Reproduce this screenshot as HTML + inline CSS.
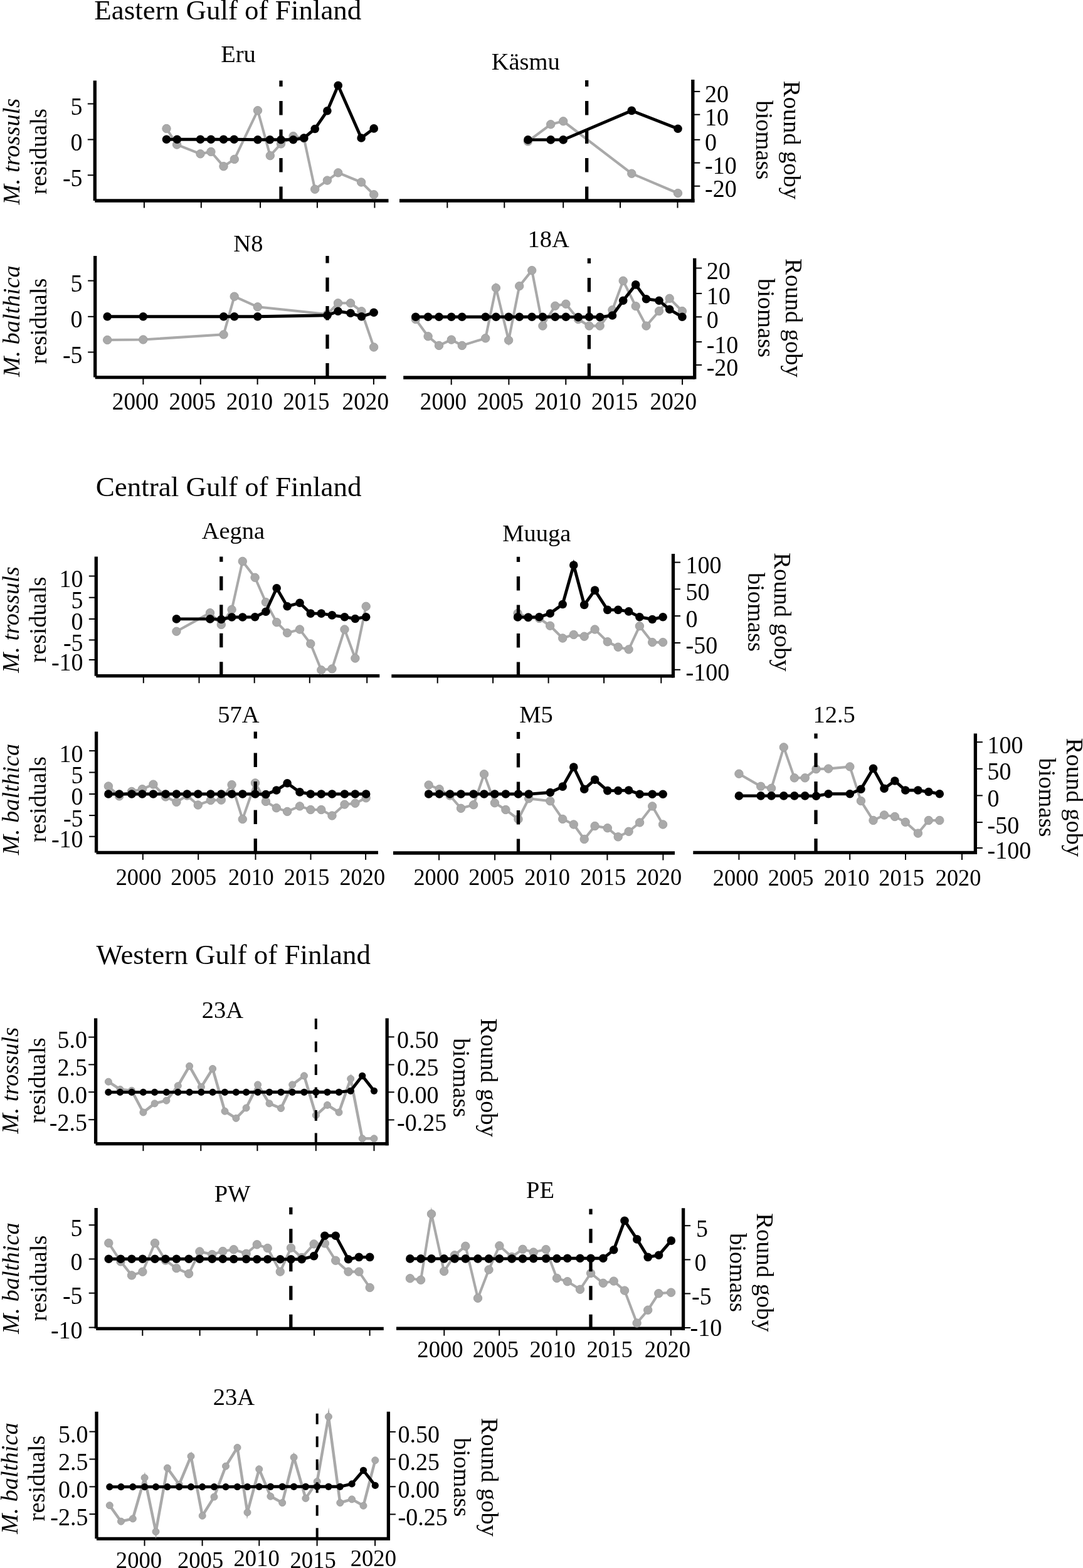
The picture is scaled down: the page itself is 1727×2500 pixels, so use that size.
<!DOCTYPE html>
<html><head><meta charset="utf-8"><title>Gulf of Finland residuals and round goby biomass</title>
<style>
html,body{margin:0;padding:0;background:#fff;}
body{width:1727px;height:2500px;overflow:hidden;}
svg{display:block;}
text{font-family:"Liberation Serif","Times New Roman",serif;fill:#000;}
</style></head>
<body>
<svg width="1727" height="2500" viewBox="0 0 1727 2500">
<rect width="1727" height="2500" fill="#fff"/>
<text x="363.3" y="31.3" text-anchor="middle" font-size="45">Eastern Gulf of Finland</text>
<text x="364.7" y="790.7" text-anchor="middle" font-size="45">Central Gulf of Finland</text>
<text x="372.3" y="1536.7" text-anchor="middle" font-size="45">Western Gulf of Finland</text>
<line x1="151.3" y1="320.0" x2="619.5" y2="320.0" stroke="#000" stroke-width="5.3"/>
<line x1="151.3" y1="128.5" x2="151.3" y2="320.0" stroke="#000" stroke-width="5.3"/>
<line x1="139.8" y1="165.5" x2="151.3" y2="165.5" stroke="#000" stroke-width="2"/>
<text transform="translate(131.6,182.9) scale(0.95,1)" x="0" y="0" text-anchor="end" font-size="40.0">5</text>
<line x1="139.8" y1="222.5" x2="151.3" y2="222.5" stroke="#000" stroke-width="2"/>
<text transform="translate(131.6,239.9) scale(0.95,1)" x="0" y="0" text-anchor="end" font-size="40.0">0</text>
<line x1="139.8" y1="279.3" x2="151.3" y2="279.3" stroke="#000" stroke-width="2"/>
<text transform="translate(131.6,296.7) scale(0.95,1)" x="0" y="0" text-anchor="end" font-size="40.0">-5</text>
<line x1="229.9" y1="320.0" x2="229.9" y2="331.5" stroke="#000" stroke-width="2"/>
<line x1="320.8" y1="320.0" x2="320.8" y2="331.5" stroke="#000" stroke-width="2"/>
<line x1="415.1" y1="320.0" x2="415.1" y2="331.5" stroke="#000" stroke-width="2"/>
<line x1="505.9" y1="320.0" x2="505.9" y2="331.5" stroke="#000" stroke-width="2"/>
<line x1="597.4" y1="320.0" x2="597.4" y2="331.5" stroke="#000" stroke-width="2"/>
<text x="380.0" y="98.7" text-anchor="middle" font-size="38.5">Eru</text>
<polyline points="265.5,205.0 282.1,230.6 319.5,245.3 336.4,241.9 356.5,265.2 373.8,253.9 411.0,176.2 430.8,248.2 448.0,229.4 467.6,217.1 484.7,220.5 502.2,301.7 521.9,287.6 539.2,275.4 576.1,290.5 596.2,310.2" fill="none" stroke="#a9a9a9" stroke-width="4.1" stroke-linejoin="miter" stroke-miterlimit="10"/>
<circle cx="265.5" cy="205.0" r="6.7" fill="#a9a9a9" stroke="#a0a0a0" stroke-width="1"/>
<circle cx="282.1" cy="230.6" r="6.7" fill="#a9a9a9" stroke="#a0a0a0" stroke-width="1"/>
<circle cx="319.5" cy="245.3" r="6.7" fill="#a9a9a9" stroke="#a0a0a0" stroke-width="1"/>
<circle cx="336.4" cy="241.9" r="6.7" fill="#a9a9a9" stroke="#a0a0a0" stroke-width="1"/>
<circle cx="356.5" cy="265.2" r="6.7" fill="#a9a9a9" stroke="#a0a0a0" stroke-width="1"/>
<circle cx="373.8" cy="253.9" r="6.7" fill="#a9a9a9" stroke="#a0a0a0" stroke-width="1"/>
<circle cx="411.0" cy="176.2" r="6.7" fill="#a9a9a9" stroke="#a0a0a0" stroke-width="1"/>
<circle cx="430.8" cy="248.2" r="6.7" fill="#a9a9a9" stroke="#a0a0a0" stroke-width="1"/>
<circle cx="448.0" cy="229.4" r="6.7" fill="#a9a9a9" stroke="#a0a0a0" stroke-width="1"/>
<circle cx="467.6" cy="217.1" r="6.7" fill="#a9a9a9" stroke="#a0a0a0" stroke-width="1"/>
<circle cx="484.7" cy="220.5" r="6.7" fill="#a9a9a9" stroke="#a0a0a0" stroke-width="1"/>
<circle cx="502.2" cy="301.7" r="6.7" fill="#a9a9a9" stroke="#a0a0a0" stroke-width="1"/>
<circle cx="521.9" cy="287.6" r="6.7" fill="#a9a9a9" stroke="#a0a0a0" stroke-width="1"/>
<circle cx="539.2" cy="275.4" r="6.7" fill="#a9a9a9" stroke="#a0a0a0" stroke-width="1"/>
<circle cx="576.1" cy="290.5" r="6.7" fill="#a9a9a9" stroke="#a0a0a0" stroke-width="1"/>
<circle cx="596.2" cy="310.2" r="6.7" fill="#a9a9a9" stroke="#a0a0a0" stroke-width="1"/>
<line x1="448.0" y1="320.0" x2="448.0" y2="128.5" stroke="#000" stroke-width="5.3" stroke-dasharray="22.5 23"/>
<polyline points="265.5,222.3 282.4,222.3 319.5,222.3 336.4,222.3 356.5,222.3 373.3,222.3 411.0,222.8 430.4,222.8 448.0,222.8 467.6,222.8 484.7,220.0 502.2,205.5 521.9,176.7 539.2,136.3 576.1,220.0 596.2,204.9" fill="none" stroke="#000" stroke-width="4.9" stroke-linejoin="miter" stroke-miterlimit="10"/>
<circle cx="265.5" cy="222.3" r="6.8" fill="#000"/>
<circle cx="282.4" cy="222.3" r="6.8" fill="#000"/>
<circle cx="319.5" cy="222.3" r="6.8" fill="#000"/>
<circle cx="336.4" cy="222.3" r="6.8" fill="#000"/>
<circle cx="356.5" cy="222.3" r="6.8" fill="#000"/>
<circle cx="373.3" cy="222.3" r="6.8" fill="#000"/>
<circle cx="411.0" cy="222.8" r="6.8" fill="#000"/>
<circle cx="430.4" cy="222.8" r="6.8" fill="#000"/>
<circle cx="448.0" cy="222.8" r="6.8" fill="#000"/>
<circle cx="467.6" cy="222.8" r="6.8" fill="#000"/>
<circle cx="484.7" cy="220.0" r="6.8" fill="#000"/>
<circle cx="502.2" cy="205.5" r="6.8" fill="#000"/>
<circle cx="521.9" cy="176.7" r="6.8" fill="#000"/>
<circle cx="539.2" cy="136.3" r="6.8" fill="#000"/>
<circle cx="576.1" cy="220.0" r="6.8" fill="#000"/>
<circle cx="596.2" cy="204.9" r="6.8" fill="#000"/>
<line x1="637.0" y1="320.0" x2="1107.5" y2="320.0" stroke="#000" stroke-width="5.3"/>
<line x1="1104.8" y1="127.0" x2="1104.8" y2="322.6" stroke="#000" stroke-width="5.3"/>
<line x1="1104.8" y1="145.9" x2="1116.3" y2="145.9" stroke="#000" stroke-width="2"/>
<text transform="translate(1124.0,163.3) scale(0.95,1)" x="0" y="0" text-anchor="start" font-size="40.0">20</text>
<line x1="1104.8" y1="182.7" x2="1116.3" y2="182.7" stroke="#000" stroke-width="2"/>
<text transform="translate(1124.0,200.1) scale(0.95,1)" x="0" y="0" text-anchor="start" font-size="40.0">10</text>
<line x1="1104.8" y1="222.8" x2="1116.3" y2="222.8" stroke="#000" stroke-width="2"/>
<text transform="translate(1124.0,240.2) scale(0.95,1)" x="0" y="0" text-anchor="start" font-size="40.0">0</text>
<line x1="1104.8" y1="259.6" x2="1116.3" y2="259.6" stroke="#000" stroke-width="2"/>
<text transform="translate(1124.0,277.0) scale(0.95,1)" x="0" y="0" text-anchor="start" font-size="40.0">-10</text>
<line x1="1104.8" y1="296.7" x2="1116.3" y2="296.7" stroke="#000" stroke-width="2"/>
<text transform="translate(1124.0,314.1) scale(0.95,1)" x="0" y="0" text-anchor="start" font-size="40.0">-20</text>
<line x1="713.3" y1="320.0" x2="713.3" y2="331.5" stroke="#000" stroke-width="2"/>
<line x1="804.3" y1="320.0" x2="804.3" y2="331.5" stroke="#000" stroke-width="2"/>
<line x1="898.2" y1="320.0" x2="898.2" y2="331.5" stroke="#000" stroke-width="2"/>
<line x1="989.0" y1="320.0" x2="989.0" y2="331.5" stroke="#000" stroke-width="2"/>
<line x1="1080.5" y1="320.0" x2="1080.5" y2="331.5" stroke="#000" stroke-width="2"/>
<text x="838.2" y="111.4" text-anchor="middle" font-size="38.5">Käsmu</text>
<polyline points="841.9,225.4 878.2,198.3 898.2,193.3 1007.3,276.7 1081.0,308.0" fill="none" stroke="#a9a9a9" stroke-width="4.1" stroke-linejoin="miter" stroke-miterlimit="10"/>
<circle cx="841.9" cy="225.4" r="6.7" fill="#a9a9a9" stroke="#a0a0a0" stroke-width="1"/>
<circle cx="878.2" cy="198.3" r="6.7" fill="#a9a9a9" stroke="#a0a0a0" stroke-width="1"/>
<circle cx="898.2" cy="193.3" r="6.7" fill="#a9a9a9" stroke="#a0a0a0" stroke-width="1"/>
<circle cx="1007.3" cy="276.7" r="6.7" fill="#a9a9a9" stroke="#a0a0a0" stroke-width="1"/>
<circle cx="1081.0" cy="308.0" r="6.7" fill="#a9a9a9" stroke="#a0a0a0" stroke-width="1"/>
<line x1="935.7" y1="320.0" x2="935.7" y2="128.0" stroke="#000" stroke-width="5.3" stroke-dasharray="22.5 23"/>
<polyline points="841.9,222.9 878.2,222.9 898.2,222.9 1007.3,176.4 1081.0,205.3" fill="none" stroke="#000" stroke-width="4.9" stroke-linejoin="miter" stroke-miterlimit="10"/>
<circle cx="841.9" cy="222.9" r="6.8" fill="#000"/>
<circle cx="878.2" cy="222.9" r="6.8" fill="#000"/>
<circle cx="898.2" cy="222.9" r="6.8" fill="#000"/>
<circle cx="1007.3" cy="176.4" r="6.8" fill="#000"/>
<circle cx="1081.0" cy="205.3" r="6.8" fill="#000"/>
<line x1="151.7" y1="601.6" x2="615.6" y2="601.6" stroke="#000" stroke-width="5.3"/>
<line x1="151.7" y1="408.1" x2="151.7" y2="601.6" stroke="#000" stroke-width="5.3"/>
<line x1="140.2" y1="447.6" x2="151.7" y2="447.6" stroke="#000" stroke-width="2"/>
<text transform="translate(131.6,465.0) scale(0.95,1)" x="0" y="0" text-anchor="end" font-size="40.0">5</text>
<line x1="140.2" y1="504.8" x2="151.7" y2="504.8" stroke="#000" stroke-width="2"/>
<text transform="translate(131.6,522.2) scale(0.95,1)" x="0" y="0" text-anchor="end" font-size="40.0">0</text>
<line x1="140.2" y1="561.5" x2="151.7" y2="561.5" stroke="#000" stroke-width="2"/>
<text transform="translate(131.6,578.9) scale(0.95,1)" x="0" y="0" text-anchor="end" font-size="40.0">-5</text>
<line x1="228.4" y1="601.6" x2="228.4" y2="613.1" stroke="#000" stroke-width="2"/>
<line x1="319.8" y1="601.6" x2="319.8" y2="613.1" stroke="#000" stroke-width="2"/>
<line x1="410.6" y1="601.6" x2="410.6" y2="613.1" stroke="#000" stroke-width="2"/>
<line x1="501.9" y1="601.6" x2="501.9" y2="613.1" stroke="#000" stroke-width="2"/>
<line x1="595.9" y1="601.6" x2="595.9" y2="613.1" stroke="#000" stroke-width="2"/>
<text transform="translate(216.0,653.3) scale(0.93,1)" x="0" y="0" text-anchor="middle" font-size="40.0">2000</text>
<text transform="translate(306.8,653.3) scale(0.93,1)" x="0" y="0" text-anchor="middle" font-size="40.0">2005</text>
<text transform="translate(398.0,653.3) scale(0.93,1)" x="0" y="0" text-anchor="middle" font-size="40.0">2010</text>
<text transform="translate(488.4,653.3) scale(0.93,1)" x="0" y="0" text-anchor="middle" font-size="40.0">2015</text>
<text transform="translate(582.8,653.3) scale(0.93,1)" x="0" y="0" text-anchor="middle" font-size="40.0">2020</text>
<text x="395.9" y="401.1" text-anchor="middle" font-size="38.5">N8</text>
<polyline points="171.2,542.0 228.3,541.5 356.6,533.4 373.7,472.7 410.8,489.3 522.0,501.0 539.0,483.3 559.0,483.3 576.5,496.3 596.1,553.5" fill="none" stroke="#a9a9a9" stroke-width="4.1" stroke-linejoin="miter" stroke-miterlimit="10"/>
<circle cx="171.2" cy="542.0" r="6.7" fill="#a9a9a9" stroke="#a0a0a0" stroke-width="1"/>
<circle cx="228.3" cy="541.5" r="6.7" fill="#a9a9a9" stroke="#a0a0a0" stroke-width="1"/>
<circle cx="356.6" cy="533.4" r="6.7" fill="#a9a9a9" stroke="#a0a0a0" stroke-width="1"/>
<circle cx="373.7" cy="472.7" r="6.7" fill="#a9a9a9" stroke="#a0a0a0" stroke-width="1"/>
<circle cx="410.8" cy="489.3" r="6.7" fill="#a9a9a9" stroke="#a0a0a0" stroke-width="1"/>
<circle cx="522.0" cy="501.0" r="6.7" fill="#a9a9a9" stroke="#a0a0a0" stroke-width="1"/>
<circle cx="539.0" cy="483.3" r="6.7" fill="#a9a9a9" stroke="#a0a0a0" stroke-width="1"/>
<circle cx="559.0" cy="483.3" r="6.7" fill="#a9a9a9" stroke="#a0a0a0" stroke-width="1"/>
<circle cx="576.5" cy="496.3" r="6.7" fill="#a9a9a9" stroke="#a0a0a0" stroke-width="1"/>
<circle cx="596.1" cy="553.5" r="6.7" fill="#a9a9a9" stroke="#a0a0a0" stroke-width="1"/>
<line x1="522.0" y1="601.6" x2="522.0" y2="408.1" stroke="#000" stroke-width="5.3" stroke-dasharray="22.5 23"/>
<polyline points="171.2,504.8 228.3,504.8 356.6,504.8 373.7,504.8 410.8,504.8 522.0,502.8 539.0,496.3 559.0,499.3 576.5,504.8 596.1,498.3" fill="none" stroke="#000" stroke-width="4.9" stroke-linejoin="miter" stroke-miterlimit="10"/>
<circle cx="171.2" cy="504.8" r="6.8" fill="#000"/>
<circle cx="228.3" cy="504.8" r="6.8" fill="#000"/>
<circle cx="356.6" cy="504.8" r="6.8" fill="#000"/>
<circle cx="373.7" cy="504.8" r="6.8" fill="#000"/>
<circle cx="410.8" cy="504.8" r="6.8" fill="#000"/>
<circle cx="522.0" cy="502.8" r="6.8" fill="#000"/>
<circle cx="539.0" cy="496.3" r="6.8" fill="#000"/>
<circle cx="559.0" cy="499.3" r="6.8" fill="#000"/>
<circle cx="576.5" cy="504.8" r="6.8" fill="#000"/>
<circle cx="596.1" cy="498.3" r="6.8" fill="#000"/>
<line x1="643.2" y1="602.0" x2="1108.0" y2="602.0" stroke="#000" stroke-width="5.3"/>
<line x1="1107.7" y1="411.8" x2="1107.7" y2="604.6" stroke="#000" stroke-width="5.3"/>
<line x1="1107.7" y1="427.5" x2="1119.2" y2="427.5" stroke="#000" stroke-width="2"/>
<text transform="translate(1126.7,444.9) scale(0.95,1)" x="0" y="0" text-anchor="start" font-size="40.0">20</text>
<line x1="1107.7" y1="467.9" x2="1119.2" y2="467.9" stroke="#000" stroke-width="2"/>
<text transform="translate(1126.7,485.3) scale(0.95,1)" x="0" y="0" text-anchor="start" font-size="40.0">10</text>
<line x1="1107.7" y1="505.3" x2="1119.2" y2="505.3" stroke="#000" stroke-width="2"/>
<text transform="translate(1126.7,522.7) scale(0.95,1)" x="0" y="0" text-anchor="start" font-size="40.0">0</text>
<line x1="1107.7" y1="545.1" x2="1119.2" y2="545.1" stroke="#000" stroke-width="2"/>
<text transform="translate(1126.7,562.5) scale(0.95,1)" x="0" y="0" text-anchor="start" font-size="40.0">-10</text>
<line x1="1107.7" y1="581.9" x2="1119.2" y2="581.9" stroke="#000" stroke-width="2"/>
<text transform="translate(1126.7,599.3) scale(0.95,1)" x="0" y="0" text-anchor="start" font-size="40.0">-20</text>
<line x1="719.7" y1="602.0" x2="719.7" y2="613.5" stroke="#000" stroke-width="2"/>
<line x1="811.4" y1="602.0" x2="811.4" y2="613.5" stroke="#000" stroke-width="2"/>
<line x1="902.3" y1="602.0" x2="902.3" y2="613.5" stroke="#000" stroke-width="2"/>
<line x1="993.4" y1="602.0" x2="993.4" y2="613.5" stroke="#000" stroke-width="2"/>
<line x1="1088.1" y1="602.0" x2="1088.1" y2="613.5" stroke="#000" stroke-width="2"/>
<text transform="translate(707.0,653.3) scale(0.93,1)" x="0" y="0" text-anchor="middle" font-size="40.0">2000</text>
<text transform="translate(797.9,653.3) scale(0.93,1)" x="0" y="0" text-anchor="middle" font-size="40.0">2005</text>
<text transform="translate(889.6,653.3) scale(0.93,1)" x="0" y="0" text-anchor="middle" font-size="40.0">2010</text>
<text transform="translate(980.2,653.3) scale(0.93,1)" x="0" y="0" text-anchor="middle" font-size="40.0">2015</text>
<text transform="translate(1073.8,653.3) scale(0.93,1)" x="0" y="0" text-anchor="middle" font-size="40.0">2020</text>
<text x="874.7" y="394.2" text-anchor="middle" font-size="38.5">18A</text>
<polyline points="662.8,509.1 682.6,536.3 700.0,550.9 719.8,541.6 736.8,550.9 774.2,539.3 790.9,459.1 811.1,542.5 828.2,456.1 848.2,431.1 865.4,519.6 885.3,487.7 902.4,484.7 922.1,509.1 939.6,519.6 956.7,519.6 976.5,494.2 993.7,447.7 1013.7,488.1 1030.5,519.6 1051.0,496.0 1067.7,475.8 1087.9,496.0" fill="none" stroke="#a9a9a9" stroke-width="4.1" stroke-linejoin="miter" stroke-miterlimit="10"/>
<circle cx="662.8" cy="509.1" r="6.7" fill="#a9a9a9" stroke="#a0a0a0" stroke-width="1"/>
<circle cx="682.6" cy="536.3" r="6.7" fill="#a9a9a9" stroke="#a0a0a0" stroke-width="1"/>
<circle cx="700.0" cy="550.9" r="6.7" fill="#a9a9a9" stroke="#a0a0a0" stroke-width="1"/>
<circle cx="719.8" cy="541.6" r="6.7" fill="#a9a9a9" stroke="#a0a0a0" stroke-width="1"/>
<circle cx="736.8" cy="550.9" r="6.7" fill="#a9a9a9" stroke="#a0a0a0" stroke-width="1"/>
<circle cx="774.2" cy="539.3" r="6.7" fill="#a9a9a9" stroke="#a0a0a0" stroke-width="1"/>
<circle cx="790.9" cy="459.1" r="6.7" fill="#a9a9a9" stroke="#a0a0a0" stroke-width="1"/>
<circle cx="811.1" cy="542.5" r="6.7" fill="#a9a9a9" stroke="#a0a0a0" stroke-width="1"/>
<circle cx="828.2" cy="456.1" r="6.7" fill="#a9a9a9" stroke="#a0a0a0" stroke-width="1"/>
<circle cx="848.2" cy="431.1" r="6.7" fill="#a9a9a9" stroke="#a0a0a0" stroke-width="1"/>
<circle cx="865.4" cy="519.6" r="6.7" fill="#a9a9a9" stroke="#a0a0a0" stroke-width="1"/>
<circle cx="885.3" cy="487.7" r="6.7" fill="#a9a9a9" stroke="#a0a0a0" stroke-width="1"/>
<circle cx="902.4" cy="484.7" r="6.7" fill="#a9a9a9" stroke="#a0a0a0" stroke-width="1"/>
<circle cx="922.1" cy="509.1" r="6.7" fill="#a9a9a9" stroke="#a0a0a0" stroke-width="1"/>
<circle cx="939.6" cy="519.6" r="6.7" fill="#a9a9a9" stroke="#a0a0a0" stroke-width="1"/>
<circle cx="956.7" cy="519.6" r="6.7" fill="#a9a9a9" stroke="#a0a0a0" stroke-width="1"/>
<circle cx="976.5" cy="494.2" r="6.7" fill="#a9a9a9" stroke="#a0a0a0" stroke-width="1"/>
<circle cx="993.7" cy="447.7" r="6.7" fill="#a9a9a9" stroke="#a0a0a0" stroke-width="1"/>
<circle cx="1013.7" cy="488.1" r="6.7" fill="#a9a9a9" stroke="#a0a0a0" stroke-width="1"/>
<circle cx="1030.5" cy="519.6" r="6.7" fill="#a9a9a9" stroke="#a0a0a0" stroke-width="1"/>
<circle cx="1051.0" cy="496.0" r="6.7" fill="#a9a9a9" stroke="#a0a0a0" stroke-width="1"/>
<circle cx="1067.7" cy="475.8" r="6.7" fill="#a9a9a9" stroke="#a0a0a0" stroke-width="1"/>
<circle cx="1087.9" cy="496.0" r="6.7" fill="#a9a9a9" stroke="#a0a0a0" stroke-width="1"/>
<line x1="939.4" y1="602.0" x2="939.4" y2="411.8" stroke="#000" stroke-width="5.3" stroke-dasharray="22.5 23"/>
<polyline points="662.8,505.3 682.6,505.3 700.0,505.3 719.8,505.3 736.8,505.3 774.2,505.3 790.9,505.3 811.1,505.3 828.2,505.3 848.2,505.3 865.4,505.3 885.3,505.3 902.4,505.3 922.1,505.6 939.6,505.3 956.7,505.6 976.5,503.0 993.7,479.3 1013.7,453.9 1030.5,476.7 1051.0,479.3 1067.7,493.3 1087.9,505.3" fill="none" stroke="#000" stroke-width="4.9" stroke-linejoin="miter" stroke-miterlimit="10"/>
<circle cx="662.8" cy="505.3" r="6.8" fill="#000"/>
<circle cx="682.6" cy="505.3" r="6.8" fill="#000"/>
<circle cx="700.0" cy="505.3" r="6.8" fill="#000"/>
<circle cx="719.8" cy="505.3" r="6.8" fill="#000"/>
<circle cx="736.8" cy="505.3" r="6.8" fill="#000"/>
<circle cx="774.2" cy="505.3" r="6.8" fill="#000"/>
<circle cx="790.9" cy="505.3" r="6.8" fill="#000"/>
<circle cx="811.1" cy="505.3" r="6.8" fill="#000"/>
<circle cx="828.2" cy="505.3" r="6.8" fill="#000"/>
<circle cx="848.2" cy="505.3" r="6.8" fill="#000"/>
<circle cx="865.4" cy="505.3" r="6.8" fill="#000"/>
<circle cx="885.3" cy="505.3" r="6.8" fill="#000"/>
<circle cx="902.4" cy="505.3" r="6.8" fill="#000"/>
<circle cx="922.1" cy="505.6" r="6.8" fill="#000"/>
<circle cx="939.6" cy="505.3" r="6.8" fill="#000"/>
<circle cx="956.7" cy="505.6" r="6.8" fill="#000"/>
<circle cx="976.5" cy="503.0" r="6.8" fill="#000"/>
<circle cx="993.7" cy="479.3" r="6.8" fill="#000"/>
<circle cx="1013.7" cy="453.9" r="6.8" fill="#000"/>
<circle cx="1030.5" cy="476.7" r="6.8" fill="#000"/>
<circle cx="1051.0" cy="479.3" r="6.8" fill="#000"/>
<circle cx="1067.7" cy="493.3" r="6.8" fill="#000"/>
<circle cx="1087.9" cy="505.3" r="6.8" fill="#000"/>
<line x1="153.3" y1="1077.7" x2="605.3" y2="1077.7" stroke="#000" stroke-width="5.3"/>
<line x1="153.3" y1="887.5" x2="153.3" y2="1077.7" stroke="#000" stroke-width="5.3"/>
<line x1="141.8" y1="918.5" x2="153.3" y2="918.5" stroke="#000" stroke-width="2"/>
<text transform="translate(132.6,935.9) scale(0.95,1)" x="0" y="0" text-anchor="end" font-size="40.0">10</text>
<line x1="141.8" y1="952.7" x2="153.3" y2="952.7" stroke="#000" stroke-width="2"/>
<text transform="translate(132.6,970.1) scale(0.95,1)" x="0" y="0" text-anchor="end" font-size="40.0">5</text>
<line x1="141.8" y1="986.9" x2="153.3" y2="986.9" stroke="#000" stroke-width="2"/>
<text transform="translate(132.6,1004.3) scale(0.95,1)" x="0" y="0" text-anchor="end" font-size="40.0">0</text>
<line x1="141.8" y1="1020.4" x2="153.3" y2="1020.4" stroke="#000" stroke-width="2"/>
<text transform="translate(132.6,1037.8) scale(0.95,1)" x="0" y="0" text-anchor="end" font-size="40.0">-5</text>
<line x1="141.8" y1="1052.0" x2="153.3" y2="1052.0" stroke="#000" stroke-width="2"/>
<text transform="translate(132.6,1069.4) scale(0.95,1)" x="0" y="0" text-anchor="end" font-size="40.0">-10</text>
<line x1="228.8" y1="1077.7" x2="228.8" y2="1089.2" stroke="#000" stroke-width="2"/>
<line x1="317.5" y1="1077.7" x2="317.5" y2="1089.2" stroke="#000" stroke-width="2"/>
<line x1="405.7" y1="1077.7" x2="405.7" y2="1089.2" stroke="#000" stroke-width="2"/>
<line x1="493.8" y1="1077.7" x2="493.8" y2="1089.2" stroke="#000" stroke-width="2"/>
<line x1="585.2" y1="1077.7" x2="585.2" y2="1089.2" stroke="#000" stroke-width="2"/>
<text x="371.9" y="859.1" text-anchor="middle" font-size="38.5">Aegna</text>
<polyline points="281.4,1006.7 335.0,977.1 352.8,995.9 369.6,971.9 386.8,894.9 406.6,920.8 423.9,960.2 441.2,992.2 458.1,1009.1 478.0,1003.5 495.3,1026.4 512.3,1068.3 529.5,1066.4 549.5,1003.5 566.4,1049.5 583.7,966.8" fill="none" stroke="#a9a9a9" stroke-width="4.1" stroke-linejoin="miter" stroke-miterlimit="10"/>
<circle cx="281.4" cy="1006.7" r="6.7" fill="#a9a9a9" stroke="#a0a0a0" stroke-width="1"/>
<circle cx="335.0" cy="977.1" r="6.7" fill="#a9a9a9" stroke="#a0a0a0" stroke-width="1"/>
<circle cx="352.8" cy="995.9" r="6.7" fill="#a9a9a9" stroke="#a0a0a0" stroke-width="1"/>
<circle cx="369.6" cy="971.9" r="6.7" fill="#a9a9a9" stroke="#a0a0a0" stroke-width="1"/>
<circle cx="386.8" cy="894.9" r="6.7" fill="#a9a9a9" stroke="#a0a0a0" stroke-width="1"/>
<circle cx="406.6" cy="920.8" r="6.7" fill="#a9a9a9" stroke="#a0a0a0" stroke-width="1"/>
<circle cx="423.9" cy="960.2" r="6.7" fill="#a9a9a9" stroke="#a0a0a0" stroke-width="1"/>
<circle cx="441.2" cy="992.2" r="6.7" fill="#a9a9a9" stroke="#a0a0a0" stroke-width="1"/>
<circle cx="458.1" cy="1009.1" r="6.7" fill="#a9a9a9" stroke="#a0a0a0" stroke-width="1"/>
<circle cx="478.0" cy="1003.5" r="6.7" fill="#a9a9a9" stroke="#a0a0a0" stroke-width="1"/>
<circle cx="495.3" cy="1026.4" r="6.7" fill="#a9a9a9" stroke="#a0a0a0" stroke-width="1"/>
<circle cx="512.3" cy="1068.3" r="6.7" fill="#a9a9a9" stroke="#a0a0a0" stroke-width="1"/>
<circle cx="529.5" cy="1066.4" r="6.7" fill="#a9a9a9" stroke="#a0a0a0" stroke-width="1"/>
<circle cx="549.5" cy="1003.5" r="6.7" fill="#a9a9a9" stroke="#a0a0a0" stroke-width="1"/>
<circle cx="566.4" cy="1049.5" r="6.7" fill="#a9a9a9" stroke="#a0a0a0" stroke-width="1"/>
<circle cx="583.7" cy="966.8" r="6.7" fill="#a9a9a9" stroke="#a0a0a0" stroke-width="1"/>
<line x1="352.8" y1="1077.7" x2="352.8" y2="887.5" stroke="#000" stroke-width="5.3" stroke-dasharray="22.5 23"/>
<polyline points="281.4,986.9 335.0,986.9 352.8,987.5 369.6,984.0 386.8,984.0 406.6,983.7 423.9,975.3 441.2,937.7 458.1,966.8 478.0,961.2 495.3,978.1 512.3,978.1 529.5,980.9 549.5,983.7 566.4,986.5 583.7,983.7" fill="none" stroke="#000" stroke-width="4.9" stroke-linejoin="miter" stroke-miterlimit="10"/>
<circle cx="281.4" cy="986.9" r="6.8" fill="#000"/>
<circle cx="335.0" cy="986.9" r="6.8" fill="#000"/>
<circle cx="352.8" cy="987.5" r="6.8" fill="#000"/>
<circle cx="369.6" cy="984.0" r="6.8" fill="#000"/>
<circle cx="386.8" cy="984.0" r="6.8" fill="#000"/>
<circle cx="406.6" cy="983.7" r="6.8" fill="#000"/>
<circle cx="423.9" cy="975.3" r="6.8" fill="#000"/>
<circle cx="441.2" cy="937.7" r="6.8" fill="#000"/>
<circle cx="458.1" cy="966.8" r="6.8" fill="#000"/>
<circle cx="478.0" cy="961.2" r="6.8" fill="#000"/>
<circle cx="495.3" cy="978.1" r="6.8" fill="#000"/>
<circle cx="512.3" cy="978.1" r="6.8" fill="#000"/>
<circle cx="529.5" cy="980.9" r="6.8" fill="#000"/>
<circle cx="549.5" cy="983.7" r="6.8" fill="#000"/>
<circle cx="566.4" cy="986.5" r="6.8" fill="#000"/>
<circle cx="583.7" cy="983.7" r="6.8" fill="#000"/>
<line x1="624.3" y1="1077.9" x2="1074.0" y2="1077.9" stroke="#000" stroke-width="5.3"/>
<line x1="1073.5" y1="883.0" x2="1073.5" y2="1080.6" stroke="#000" stroke-width="5.3"/>
<line x1="1073.5" y1="896.6" x2="1085.0" y2="896.6" stroke="#000" stroke-width="2"/>
<text transform="translate(1093.5,914.0) scale(0.95,1)" x="0" y="0" text-anchor="start" font-size="40.0">100</text>
<line x1="1073.5" y1="939.3" x2="1085.0" y2="939.3" stroke="#000" stroke-width="2"/>
<text transform="translate(1093.5,956.7) scale(0.95,1)" x="0" y="0" text-anchor="start" font-size="40.0">50</text>
<line x1="1073.5" y1="982.1" x2="1085.0" y2="982.1" stroke="#000" stroke-width="2"/>
<text transform="translate(1093.5,999.5) scale(0.95,1)" x="0" y="0" text-anchor="start" font-size="40.0">0</text>
<line x1="1073.5" y1="1025.0" x2="1085.0" y2="1025.0" stroke="#000" stroke-width="2"/>
<text transform="translate(1093.5,1042.4) scale(0.95,1)" x="0" y="0" text-anchor="start" font-size="40.0">-50</text>
<line x1="1073.5" y1="1067.8" x2="1085.0" y2="1067.8" stroke="#000" stroke-width="2"/>
<text transform="translate(1093.5,1085.2) scale(0.95,1)" x="0" y="0" text-anchor="start" font-size="40.0">-100</text>
<line x1="697.7" y1="1077.9" x2="697.7" y2="1089.4" stroke="#000" stroke-width="2"/>
<line x1="786.1" y1="1077.9" x2="786.1" y2="1089.4" stroke="#000" stroke-width="2"/>
<line x1="874.6" y1="1077.9" x2="874.6" y2="1089.4" stroke="#000" stroke-width="2"/>
<line x1="963.1" y1="1077.9" x2="963.1" y2="1089.4" stroke="#000" stroke-width="2"/>
<line x1="1054.3" y1="1077.9" x2="1054.3" y2="1089.4" stroke="#000" stroke-width="2"/>
<text x="855.8" y="863.2" text-anchor="middle" font-size="38.5">Muuga</text>
<polyline points="825.6,977.9 842.3,984.5 859.9,986.0 877.2,997.7 897.2,1017.5 914.8,1011.9 931.7,1014.7 948.6,1003.5 968.8,1023.2 985.7,1031.7 1002.6,1035.4 1019.9,998.2 1040.2,1024.1 1057.1,1024.1" fill="none" stroke="#a9a9a9" stroke-width="4.1" stroke-linejoin="miter" stroke-miterlimit="10"/>
<circle cx="825.6" cy="977.9" r="6.7" fill="#a9a9a9" stroke="#a0a0a0" stroke-width="1"/>
<circle cx="842.3" cy="984.5" r="6.7" fill="#a9a9a9" stroke="#a0a0a0" stroke-width="1"/>
<circle cx="859.9" cy="986.0" r="6.7" fill="#a9a9a9" stroke="#a0a0a0" stroke-width="1"/>
<circle cx="877.2" cy="997.7" r="6.7" fill="#a9a9a9" stroke="#a0a0a0" stroke-width="1"/>
<circle cx="897.2" cy="1017.5" r="6.7" fill="#a9a9a9" stroke="#a0a0a0" stroke-width="1"/>
<circle cx="914.8" cy="1011.9" r="6.7" fill="#a9a9a9" stroke="#a0a0a0" stroke-width="1"/>
<circle cx="931.7" cy="1014.7" r="6.7" fill="#a9a9a9" stroke="#a0a0a0" stroke-width="1"/>
<circle cx="948.6" cy="1003.5" r="6.7" fill="#a9a9a9" stroke="#a0a0a0" stroke-width="1"/>
<circle cx="968.8" cy="1023.2" r="6.7" fill="#a9a9a9" stroke="#a0a0a0" stroke-width="1"/>
<circle cx="985.7" cy="1031.7" r="6.7" fill="#a9a9a9" stroke="#a0a0a0" stroke-width="1"/>
<circle cx="1002.6" cy="1035.4" r="6.7" fill="#a9a9a9" stroke="#a0a0a0" stroke-width="1"/>
<circle cx="1019.9" cy="998.2" r="6.7" fill="#a9a9a9" stroke="#a0a0a0" stroke-width="1"/>
<circle cx="1040.2" cy="1024.1" r="6.7" fill="#a9a9a9" stroke="#a0a0a0" stroke-width="1"/>
<circle cx="1057.1" cy="1024.1" r="6.7" fill="#a9a9a9" stroke="#a0a0a0" stroke-width="1"/>
<line x1="826.5" y1="1077.9" x2="826.5" y2="887.7" stroke="#000" stroke-width="5.3" stroke-dasharray="22.5 23"/>
<polyline points="825.6,983.9 842.3,984.2 859.9,983.8 877.2,978.0 897.2,963.5 914.8,901.0 931.7,964.4 948.6,941.1 968.8,972.4 985.7,972.4 1002.6,974.9 1019.9,983.7 1040.2,987.5 1057.1,983.7" fill="none" stroke="#000" stroke-width="4.9" stroke-linejoin="miter" stroke-miterlimit="10"/>
<circle cx="825.6" cy="983.9" r="6.8" fill="#000"/>
<circle cx="842.3" cy="984.2" r="6.8" fill="#000"/>
<circle cx="859.9" cy="983.8" r="6.8" fill="#000"/>
<circle cx="877.2" cy="978.0" r="6.8" fill="#000"/>
<circle cx="897.2" cy="963.5" r="6.8" fill="#000"/>
<circle cx="914.8" cy="901.0" r="6.8" fill="#000"/>
<circle cx="931.7" cy="964.4" r="6.8" fill="#000"/>
<circle cx="948.6" cy="941.1" r="6.8" fill="#000"/>
<circle cx="968.8" cy="972.4" r="6.8" fill="#000"/>
<circle cx="985.7" cy="972.4" r="6.8" fill="#000"/>
<circle cx="1002.6" cy="974.9" r="6.8" fill="#000"/>
<circle cx="1019.9" cy="983.7" r="6.8" fill="#000"/>
<circle cx="1040.2" cy="987.5" r="6.8" fill="#000"/>
<circle cx="1057.1" cy="983.7" r="6.8" fill="#000"/>
<line x1="153.6" y1="1359.4" x2="603.0" y2="1359.4" stroke="#000" stroke-width="5.3"/>
<line x1="153.6" y1="1166.6" x2="153.6" y2="1359.4" stroke="#000" stroke-width="5.3"/>
<line x1="142.1" y1="1197.1" x2="153.6" y2="1197.1" stroke="#000" stroke-width="2"/>
<text transform="translate(132.6,1214.5) scale(0.95,1)" x="0" y="0" text-anchor="end" font-size="40.0">10</text>
<line x1="142.1" y1="1231.5" x2="153.6" y2="1231.5" stroke="#000" stroke-width="2"/>
<text transform="translate(132.6,1248.9) scale(0.95,1)" x="0" y="0" text-anchor="end" font-size="40.0">5</text>
<line x1="142.1" y1="1266.0" x2="153.6" y2="1266.0" stroke="#000" stroke-width="2"/>
<text transform="translate(132.6,1283.4) scale(0.95,1)" x="0" y="0" text-anchor="end" font-size="40.0">0</text>
<line x1="142.1" y1="1300.1" x2="153.6" y2="1300.1" stroke="#000" stroke-width="2"/>
<text transform="translate(132.6,1317.5) scale(0.95,1)" x="0" y="0" text-anchor="end" font-size="40.0">-5</text>
<line x1="142.1" y1="1333.7" x2="153.6" y2="1333.7" stroke="#000" stroke-width="2"/>
<text transform="translate(132.6,1351.1) scale(0.95,1)" x="0" y="0" text-anchor="end" font-size="40.0">-10</text>
<line x1="227.8" y1="1359.4" x2="227.8" y2="1370.9" stroke="#000" stroke-width="2"/>
<line x1="316.2" y1="1359.4" x2="316.2" y2="1370.9" stroke="#000" stroke-width="2"/>
<line x1="407.5" y1="1359.4" x2="407.5" y2="1370.9" stroke="#000" stroke-width="2"/>
<line x1="495.5" y1="1359.4" x2="495.5" y2="1370.9" stroke="#000" stroke-width="2"/>
<line x1="583.1" y1="1359.4" x2="583.1" y2="1370.9" stroke="#000" stroke-width="2"/>
<text transform="translate(221.0,1411.3) scale(0.945,1)" x="0" y="0" text-anchor="middle" font-size="38.5">2000</text>
<text transform="translate(308.7,1411.3) scale(0.945,1)" x="0" y="0" text-anchor="middle" font-size="38.5">2005</text>
<text transform="translate(400.4,1411.3) scale(0.945,1)" x="0" y="0" text-anchor="middle" font-size="38.5">2010</text>
<text transform="translate(489.1,1411.3) scale(0.945,1)" x="0" y="0" text-anchor="middle" font-size="38.5">2015</text>
<text transform="translate(577.8,1411.3) scale(0.945,1)" x="0" y="0" text-anchor="middle" font-size="38.5">2020</text>
<text x="380.4" y="1152.0" text-anchor="middle" font-size="38.5">57A</text>
<polyline points="172.9,1253.5 190.2,1269.4 210.0,1261.9 226.9,1258.2 244.4,1250.6 264.1,1270.4 281.4,1278.8 298.3,1268.5 315.8,1283.5 335.9,1276.0 352.8,1275.6 369.6,1251.1 386.8,1306.1 407.0,1248.4 423.9,1277.9 440.8,1288.2 458.1,1293.9 478.0,1285.4 495.3,1291.0 512.3,1291.0 529.5,1300.5 549.5,1282.6 566.4,1280.7 583.7,1272.3" fill="none" stroke="#a9a9a9" stroke-width="4.1" stroke-linejoin="miter" stroke-miterlimit="10"/>
<circle cx="172.9" cy="1253.5" r="6.7" fill="#a9a9a9" stroke="#a0a0a0" stroke-width="1"/>
<circle cx="190.2" cy="1269.4" r="6.7" fill="#a9a9a9" stroke="#a0a0a0" stroke-width="1"/>
<circle cx="210.0" cy="1261.9" r="6.7" fill="#a9a9a9" stroke="#a0a0a0" stroke-width="1"/>
<circle cx="226.9" cy="1258.2" r="6.7" fill="#a9a9a9" stroke="#a0a0a0" stroke-width="1"/>
<circle cx="244.4" cy="1250.6" r="6.7" fill="#a9a9a9" stroke="#a0a0a0" stroke-width="1"/>
<circle cx="264.1" cy="1270.4" r="6.7" fill="#a9a9a9" stroke="#a0a0a0" stroke-width="1"/>
<circle cx="281.4" cy="1278.8" r="6.7" fill="#a9a9a9" stroke="#a0a0a0" stroke-width="1"/>
<circle cx="298.3" cy="1268.5" r="6.7" fill="#a9a9a9" stroke="#a0a0a0" stroke-width="1"/>
<circle cx="315.8" cy="1283.5" r="6.7" fill="#a9a9a9" stroke="#a0a0a0" stroke-width="1"/>
<circle cx="335.9" cy="1276.0" r="6.7" fill="#a9a9a9" stroke="#a0a0a0" stroke-width="1"/>
<circle cx="352.8" cy="1275.6" r="6.7" fill="#a9a9a9" stroke="#a0a0a0" stroke-width="1"/>
<circle cx="369.6" cy="1251.1" r="6.7" fill="#a9a9a9" stroke="#a0a0a0" stroke-width="1"/>
<circle cx="386.8" cy="1306.1" r="6.7" fill="#a9a9a9" stroke="#a0a0a0" stroke-width="1"/>
<circle cx="407.0" cy="1248.4" r="6.7" fill="#a9a9a9" stroke="#a0a0a0" stroke-width="1"/>
<circle cx="423.9" cy="1277.9" r="6.7" fill="#a9a9a9" stroke="#a0a0a0" stroke-width="1"/>
<circle cx="440.8" cy="1288.2" r="6.7" fill="#a9a9a9" stroke="#a0a0a0" stroke-width="1"/>
<circle cx="458.1" cy="1293.9" r="6.7" fill="#a9a9a9" stroke="#a0a0a0" stroke-width="1"/>
<circle cx="478.0" cy="1285.4" r="6.7" fill="#a9a9a9" stroke="#a0a0a0" stroke-width="1"/>
<circle cx="495.3" cy="1291.0" r="6.7" fill="#a9a9a9" stroke="#a0a0a0" stroke-width="1"/>
<circle cx="512.3" cy="1291.0" r="6.7" fill="#a9a9a9" stroke="#a0a0a0" stroke-width="1"/>
<circle cx="529.5" cy="1300.5" r="6.7" fill="#a9a9a9" stroke="#a0a0a0" stroke-width="1"/>
<circle cx="549.5" cy="1282.6" r="6.7" fill="#a9a9a9" stroke="#a0a0a0" stroke-width="1"/>
<circle cx="566.4" cy="1280.7" r="6.7" fill="#a9a9a9" stroke="#a0a0a0" stroke-width="1"/>
<circle cx="583.7" cy="1272.3" r="6.7" fill="#a9a9a9" stroke="#a0a0a0" stroke-width="1"/>
<line x1="407.3" y1="1359.4" x2="407.3" y2="1166.6" stroke="#000" stroke-width="5.3" stroke-dasharray="22.5 23"/>
<polyline points="172.9,1266.0 190.2,1266.0 210.0,1266.0 226.9,1266.0 244.4,1266.0 264.1,1266.0 281.4,1266.0 298.3,1266.0 315.8,1266.0 335.9,1266.0 352.8,1266.0 369.6,1266.0 386.8,1266.0 407.0,1266.0 423.9,1266.5 440.8,1260.0 458.1,1248.8 478.0,1262.9 495.3,1266.0 512.3,1266.0 529.5,1266.0 549.5,1266.0 566.4,1266.0 583.7,1266.0" fill="none" stroke="#000" stroke-width="4.9" stroke-linejoin="miter" stroke-miterlimit="10"/>
<circle cx="172.9" cy="1266.0" r="6.8" fill="#000"/>
<circle cx="190.2" cy="1266.0" r="6.8" fill="#000"/>
<circle cx="210.0" cy="1266.0" r="6.8" fill="#000"/>
<circle cx="226.9" cy="1266.0" r="6.8" fill="#000"/>
<circle cx="244.4" cy="1266.0" r="6.8" fill="#000"/>
<circle cx="264.1" cy="1266.0" r="6.8" fill="#000"/>
<circle cx="281.4" cy="1266.0" r="6.8" fill="#000"/>
<circle cx="298.3" cy="1266.0" r="6.8" fill="#000"/>
<circle cx="315.8" cy="1266.0" r="6.8" fill="#000"/>
<circle cx="335.9" cy="1266.0" r="6.8" fill="#000"/>
<circle cx="352.8" cy="1266.0" r="6.8" fill="#000"/>
<circle cx="369.6" cy="1266.0" r="6.8" fill="#000"/>
<circle cx="386.8" cy="1266.0" r="6.8" fill="#000"/>
<circle cx="407.0" cy="1266.0" r="6.8" fill="#000"/>
<circle cx="423.9" cy="1266.5" r="6.8" fill="#000"/>
<circle cx="440.8" cy="1260.0" r="6.8" fill="#000"/>
<circle cx="458.1" cy="1248.8" r="6.8" fill="#000"/>
<circle cx="478.0" cy="1262.9" r="6.8" fill="#000"/>
<circle cx="495.3" cy="1266.0" r="6.8" fill="#000"/>
<circle cx="512.3" cy="1266.0" r="6.8" fill="#000"/>
<circle cx="529.5" cy="1266.0" r="6.8" fill="#000"/>
<circle cx="549.5" cy="1266.0" r="6.8" fill="#000"/>
<circle cx="566.4" cy="1266.0" r="6.8" fill="#000"/>
<circle cx="583.7" cy="1266.0" r="6.8" fill="#000"/>
<line x1="627.0" y1="1360.0" x2="1076.0" y2="1360.0" stroke="#000" stroke-width="5.3"/>
<line x1="700.1" y1="1360.0" x2="700.1" y2="1371.5" stroke="#000" stroke-width="2"/>
<line x1="789.1" y1="1360.0" x2="789.1" y2="1371.5" stroke="#000" stroke-width="2"/>
<line x1="878.2" y1="1360.0" x2="878.2" y2="1371.5" stroke="#000" stroke-width="2"/>
<line x1="968.4" y1="1360.0" x2="968.4" y2="1371.5" stroke="#000" stroke-width="2"/>
<line x1="1057.4" y1="1360.0" x2="1057.4" y2="1371.5" stroke="#000" stroke-width="2"/>
<text transform="translate(695.8,1411.3) scale(0.945,1)" x="0" y="0" text-anchor="middle" font-size="38.5">2000</text>
<text transform="translate(783.6,1411.3) scale(0.945,1)" x="0" y="0" text-anchor="middle" font-size="38.5">2005</text>
<text transform="translate(872.6,1411.3) scale(0.945,1)" x="0" y="0" text-anchor="middle" font-size="38.5">2010</text>
<text transform="translate(961.7,1411.3) scale(0.945,1)" x="0" y="0" text-anchor="middle" font-size="38.5">2015</text>
<text transform="translate(1050.7,1411.3) scale(0.945,1)" x="0" y="0" text-anchor="middle" font-size="38.5">2020</text>
<text x="854.9" y="1152.3" text-anchor="middle" font-size="38.5">M5</text>
<polyline points="683.6,1251.6 700.6,1258.2 717.5,1268.5 735.0,1288.8 755.1,1283.2 772.0,1234.3 788.9,1280.2 806.4,1291.0 826.5,1306.1 843.2,1273.2 877.4,1277.2 897.2,1305.9 914.8,1314.5 931.7,1338.0 948.6,1317.0 968.8,1320.2 985.7,1334.3 1002.6,1325.8 1020.1,1311.4 1040.2,1285.4 1057.1,1314.5" fill="none" stroke="#a9a9a9" stroke-width="4.1" stroke-linejoin="miter" stroke-miterlimit="10"/>
<circle cx="683.6" cy="1251.6" r="6.7" fill="#a9a9a9" stroke="#a0a0a0" stroke-width="1"/>
<circle cx="700.6" cy="1258.2" r="6.7" fill="#a9a9a9" stroke="#a0a0a0" stroke-width="1"/>
<circle cx="717.5" cy="1268.5" r="6.7" fill="#a9a9a9" stroke="#a0a0a0" stroke-width="1"/>
<circle cx="735.0" cy="1288.8" r="6.7" fill="#a9a9a9" stroke="#a0a0a0" stroke-width="1"/>
<circle cx="755.1" cy="1283.2" r="6.7" fill="#a9a9a9" stroke="#a0a0a0" stroke-width="1"/>
<circle cx="772.0" cy="1234.3" r="6.7" fill="#a9a9a9" stroke="#a0a0a0" stroke-width="1"/>
<circle cx="788.9" cy="1280.2" r="6.7" fill="#a9a9a9" stroke="#a0a0a0" stroke-width="1"/>
<circle cx="806.4" cy="1291.0" r="6.7" fill="#a9a9a9" stroke="#a0a0a0" stroke-width="1"/>
<circle cx="826.5" cy="1306.1" r="6.7" fill="#a9a9a9" stroke="#a0a0a0" stroke-width="1"/>
<circle cx="843.2" cy="1273.2" r="6.7" fill="#a9a9a9" stroke="#a0a0a0" stroke-width="1"/>
<circle cx="877.4" cy="1277.2" r="6.7" fill="#a9a9a9" stroke="#a0a0a0" stroke-width="1"/>
<circle cx="897.2" cy="1305.9" r="6.7" fill="#a9a9a9" stroke="#a0a0a0" stroke-width="1"/>
<circle cx="914.8" cy="1314.5" r="6.7" fill="#a9a9a9" stroke="#a0a0a0" stroke-width="1"/>
<circle cx="931.7" cy="1338.0" r="6.7" fill="#a9a9a9" stroke="#a0a0a0" stroke-width="1"/>
<circle cx="948.6" cy="1317.0" r="6.7" fill="#a9a9a9" stroke="#a0a0a0" stroke-width="1"/>
<circle cx="968.8" cy="1320.2" r="6.7" fill="#a9a9a9" stroke="#a0a0a0" stroke-width="1"/>
<circle cx="985.7" cy="1334.3" r="6.7" fill="#a9a9a9" stroke="#a0a0a0" stroke-width="1"/>
<circle cx="1002.6" cy="1325.8" r="6.7" fill="#a9a9a9" stroke="#a0a0a0" stroke-width="1"/>
<circle cx="1020.1" cy="1311.4" r="6.7" fill="#a9a9a9" stroke="#a0a0a0" stroke-width="1"/>
<circle cx="1040.2" cy="1285.4" r="6.7" fill="#a9a9a9" stroke="#a0a0a0" stroke-width="1"/>
<circle cx="1057.1" cy="1314.5" r="6.7" fill="#a9a9a9" stroke="#a0a0a0" stroke-width="1"/>
<line x1="826.5" y1="1360.0" x2="826.5" y2="1167.0" stroke="#000" stroke-width="5.3" stroke-dasharray="22.5 23"/>
<polyline points="683.6,1266.0 700.6,1266.0 717.5,1266.0 735.0,1266.0 755.1,1266.0 772.0,1266.0 788.9,1266.0 806.4,1266.0 826.5,1266.0 843.2,1266.1 877.4,1263.5 897.2,1254.1 914.8,1223.0 931.7,1258.2 948.6,1243.1 968.8,1260.6 985.7,1260.6 1002.6,1260.0 1020.1,1266.2 1040.2,1266.2 1057.1,1266.2" fill="none" stroke="#000" stroke-width="4.9" stroke-linejoin="miter" stroke-miterlimit="10"/>
<circle cx="683.6" cy="1266.0" r="6.8" fill="#000"/>
<circle cx="700.6" cy="1266.0" r="6.8" fill="#000"/>
<circle cx="717.5" cy="1266.0" r="6.8" fill="#000"/>
<circle cx="735.0" cy="1266.0" r="6.8" fill="#000"/>
<circle cx="755.1" cy="1266.0" r="6.8" fill="#000"/>
<circle cx="772.0" cy="1266.0" r="6.8" fill="#000"/>
<circle cx="788.9" cy="1266.0" r="6.8" fill="#000"/>
<circle cx="806.4" cy="1266.0" r="6.8" fill="#000"/>
<circle cx="826.5" cy="1266.0" r="6.8" fill="#000"/>
<circle cx="843.2" cy="1266.1" r="6.8" fill="#000"/>
<circle cx="877.4" cy="1263.5" r="6.8" fill="#000"/>
<circle cx="897.2" cy="1254.1" r="6.8" fill="#000"/>
<circle cx="914.8" cy="1223.0" r="6.8" fill="#000"/>
<circle cx="931.7" cy="1258.2" r="6.8" fill="#000"/>
<circle cx="948.6" cy="1243.1" r="6.8" fill="#000"/>
<circle cx="968.8" cy="1260.6" r="6.8" fill="#000"/>
<circle cx="985.7" cy="1260.6" r="6.8" fill="#000"/>
<circle cx="1002.6" cy="1260.0" r="6.8" fill="#000"/>
<circle cx="1020.1" cy="1266.2" r="6.8" fill="#000"/>
<circle cx="1040.2" cy="1266.2" r="6.8" fill="#000"/>
<circle cx="1057.1" cy="1266.2" r="6.8" fill="#000"/>
<line x1="1105.3" y1="1359.4" x2="1558.0" y2="1359.4" stroke="#000" stroke-width="5.3"/>
<line x1="1555.4" y1="1169.6" x2="1555.4" y2="1362.1" stroke="#000" stroke-width="5.3"/>
<line x1="1555.4" y1="1183.2" x2="1566.9" y2="1183.2" stroke="#000" stroke-width="2"/>
<text transform="translate(1574.5,1200.6) scale(0.95,1)" x="0" y="0" text-anchor="start" font-size="40.0">100</text>
<line x1="1555.4" y1="1225.8" x2="1566.9" y2="1225.8" stroke="#000" stroke-width="2"/>
<text transform="translate(1574.5,1243.2) scale(0.95,1)" x="0" y="0" text-anchor="start" font-size="40.0">50</text>
<line x1="1555.4" y1="1268.4" x2="1566.9" y2="1268.4" stroke="#000" stroke-width="2"/>
<text transform="translate(1574.5,1285.8) scale(0.95,1)" x="0" y="0" text-anchor="start" font-size="40.0">0</text>
<line x1="1555.4" y1="1311.1" x2="1566.9" y2="1311.1" stroke="#000" stroke-width="2"/>
<text transform="translate(1574.5,1328.5) scale(0.95,1)" x="0" y="0" text-anchor="start" font-size="40.0">-50</text>
<line x1="1555.4" y1="1352.0" x2="1566.9" y2="1352.0" stroke="#000" stroke-width="2"/>
<text transform="translate(1574.5,1369.4) scale(0.95,1)" x="0" y="0" text-anchor="start" font-size="40.0">-100</text>
<line x1="1178.4" y1="1359.4" x2="1178.4" y2="1370.9" stroke="#000" stroke-width="2"/>
<line x1="1267.4" y1="1359.4" x2="1267.4" y2="1370.9" stroke="#000" stroke-width="2"/>
<line x1="1355.2" y1="1359.4" x2="1355.2" y2="1370.9" stroke="#000" stroke-width="2"/>
<line x1="1444.0" y1="1359.4" x2="1444.0" y2="1370.9" stroke="#000" stroke-width="2"/>
<line x1="1534.0" y1="1359.4" x2="1534.0" y2="1370.9" stroke="#000" stroke-width="2"/>
<text transform="translate(1173.2,1411.5) scale(0.945,1)" x="0" y="0" text-anchor="middle" font-size="38.5">2000</text>
<text transform="translate(1261.0,1411.5) scale(0.945,1)" x="0" y="0" text-anchor="middle" font-size="38.5">2005</text>
<text transform="translate(1350.0,1411.5) scale(0.945,1)" x="0" y="0" text-anchor="middle" font-size="38.5">2010</text>
<text transform="translate(1437.6,1411.5) scale(0.945,1)" x="0" y="0" text-anchor="middle" font-size="38.5">2015</text>
<text transform="translate(1528.1,1411.5) scale(0.945,1)" x="0" y="0" text-anchor="middle" font-size="38.5">2020</text>
<text x="1330.1" y="1152.3" text-anchor="middle" font-size="38.5">12.5</text>
<polyline points="1178.4,1233.7 1213.2,1253.8 1230.1,1256.8 1249.8,1191.4 1266.8,1240.3 1283.7,1240.3 1301.5,1226.2 1321.0,1225.6 1355.3,1222.4 1372.9,1277.0 1392.5,1308.0 1410.0,1299.5 1426.9,1302.0 1443.8,1310.8 1463.9,1328.6 1480.8,1308.0 1498.3,1308.0" fill="none" stroke="#a9a9a9" stroke-width="4.1" stroke-linejoin="miter" stroke-miterlimit="10"/>
<circle cx="1178.4" cy="1233.7" r="6.7" fill="#a9a9a9" stroke="#a0a0a0" stroke-width="1"/>
<circle cx="1213.2" cy="1253.8" r="6.7" fill="#a9a9a9" stroke="#a0a0a0" stroke-width="1"/>
<circle cx="1230.1" cy="1256.8" r="6.7" fill="#a9a9a9" stroke="#a0a0a0" stroke-width="1"/>
<circle cx="1249.8" cy="1191.4" r="6.7" fill="#a9a9a9" stroke="#a0a0a0" stroke-width="1"/>
<circle cx="1266.8" cy="1240.3" r="6.7" fill="#a9a9a9" stroke="#a0a0a0" stroke-width="1"/>
<circle cx="1283.7" cy="1240.3" r="6.7" fill="#a9a9a9" stroke="#a0a0a0" stroke-width="1"/>
<circle cx="1301.5" cy="1226.2" r="6.7" fill="#a9a9a9" stroke="#a0a0a0" stroke-width="1"/>
<circle cx="1321.0" cy="1225.6" r="6.7" fill="#a9a9a9" stroke="#a0a0a0" stroke-width="1"/>
<circle cx="1355.3" cy="1222.4" r="6.7" fill="#a9a9a9" stroke="#a0a0a0" stroke-width="1"/>
<circle cx="1372.9" cy="1277.0" r="6.7" fill="#a9a9a9" stroke="#a0a0a0" stroke-width="1"/>
<circle cx="1392.5" cy="1308.0" r="6.7" fill="#a9a9a9" stroke="#a0a0a0" stroke-width="1"/>
<circle cx="1410.0" cy="1299.5" r="6.7" fill="#a9a9a9" stroke="#a0a0a0" stroke-width="1"/>
<circle cx="1426.9" cy="1302.0" r="6.7" fill="#a9a9a9" stroke="#a0a0a0" stroke-width="1"/>
<circle cx="1443.8" cy="1310.8" r="6.7" fill="#a9a9a9" stroke="#a0a0a0" stroke-width="1"/>
<circle cx="1463.9" cy="1328.6" r="6.7" fill="#a9a9a9" stroke="#a0a0a0" stroke-width="1"/>
<circle cx="1480.8" cy="1308.0" r="6.7" fill="#a9a9a9" stroke="#a0a0a0" stroke-width="1"/>
<circle cx="1498.3" cy="1308.0" r="6.7" fill="#a9a9a9" stroke="#a0a0a0" stroke-width="1"/>
<line x1="1301.0" y1="1359.4" x2="1301.0" y2="1169.6" stroke="#000" stroke-width="5.3" stroke-dasharray="22.5 23"/>
<polyline points="1178.4,1268.9 1213.2,1268.9 1230.1,1268.9 1249.8,1268.9 1266.8,1268.9 1283.7,1268.9 1301.5,1269.2 1321.0,1265.7 1355.3,1265.7 1372.9,1258.2 1392.5,1225.3 1410.0,1257.2 1426.9,1245.0 1443.8,1260.0 1463.9,1260.0 1480.8,1262.5 1498.3,1265.7" fill="none" stroke="#000" stroke-width="4.9" stroke-linejoin="miter" stroke-miterlimit="10"/>
<circle cx="1178.4" cy="1268.9" r="6.8" fill="#000"/>
<circle cx="1213.2" cy="1268.9" r="6.8" fill="#000"/>
<circle cx="1230.1" cy="1268.9" r="6.8" fill="#000"/>
<circle cx="1249.8" cy="1268.9" r="6.8" fill="#000"/>
<circle cx="1266.8" cy="1268.9" r="6.8" fill="#000"/>
<circle cx="1283.7" cy="1268.9" r="6.8" fill="#000"/>
<circle cx="1301.5" cy="1269.2" r="6.8" fill="#000"/>
<circle cx="1321.0" cy="1265.7" r="6.8" fill="#000"/>
<circle cx="1355.3" cy="1265.7" r="6.8" fill="#000"/>
<circle cx="1372.9" cy="1258.2" r="6.8" fill="#000"/>
<circle cx="1392.5" cy="1225.3" r="6.8" fill="#000"/>
<circle cx="1410.0" cy="1257.2" r="6.8" fill="#000"/>
<circle cx="1426.9" cy="1245.0" r="6.8" fill="#000"/>
<circle cx="1443.8" cy="1260.0" r="6.8" fill="#000"/>
<circle cx="1463.9" cy="1260.0" r="6.8" fill="#000"/>
<circle cx="1480.8" cy="1262.5" r="6.8" fill="#000"/>
<circle cx="1498.3" cy="1265.7" r="6.8" fill="#000"/>
<line x1="152.6" y1="1823.6" x2="619.5" y2="1823.6" stroke="#000" stroke-width="5.3"/>
<line x1="152.6" y1="1623.5" x2="152.6" y2="1823.6" stroke="#000" stroke-width="5.3"/>
<line x1="141.1" y1="1653.6" x2="152.6" y2="1653.6" stroke="#000" stroke-width="2"/>
<text transform="translate(139.0,1671.0) scale(0.95,1)" x="0" y="0" text-anchor="end" font-size="40.0">5.0</text>
<line x1="141.1" y1="1697.4" x2="152.6" y2="1697.4" stroke="#000" stroke-width="2"/>
<text transform="translate(139.0,1714.8) scale(0.95,1)" x="0" y="0" text-anchor="end" font-size="40.0">2.5</text>
<line x1="141.1" y1="1741.2" x2="152.6" y2="1741.2" stroke="#000" stroke-width="2"/>
<text transform="translate(139.0,1758.6) scale(0.95,1)" x="0" y="0" text-anchor="end" font-size="40.0">0.0</text>
<line x1="141.1" y1="1785.2" x2="152.6" y2="1785.2" stroke="#000" stroke-width="2"/>
<text transform="translate(139.0,1802.6) scale(0.95,1)" x="0" y="0" text-anchor="end" font-size="40.0">-2.5</text>
<line x1="617.2" y1="1623.5" x2="617.2" y2="1826.2" stroke="#000" stroke-width="5.3"/>
<line x1="617.2" y1="1653.3" x2="628.7" y2="1653.3" stroke="#000" stroke-width="2"/>
<text transform="translate(633.0,1670.7) scale(0.95,1)" x="0" y="0" text-anchor="start" font-size="40.0">0.50</text>
<line x1="617.2" y1="1697.5" x2="628.7" y2="1697.5" stroke="#000" stroke-width="2"/>
<text transform="translate(633.0,1714.9) scale(0.95,1)" x="0" y="0" text-anchor="start" font-size="40.0">0.25</text>
<line x1="617.2" y1="1741.3" x2="628.7" y2="1741.3" stroke="#000" stroke-width="2"/>
<text transform="translate(633.0,1758.7) scale(0.95,1)" x="0" y="0" text-anchor="start" font-size="40.0">0.00</text>
<line x1="617.2" y1="1785.5" x2="628.7" y2="1785.5" stroke="#000" stroke-width="2"/>
<text transform="translate(633.0,1802.9) scale(0.95,1)" x="0" y="0" text-anchor="start" font-size="40.0">-0.25</text>
<line x1="228.4" y1="1823.6" x2="228.4" y2="1835.1" stroke="#000" stroke-width="2"/>
<line x1="320.3" y1="1823.6" x2="320.3" y2="1835.1" stroke="#000" stroke-width="2"/>
<line x1="410.4" y1="1823.6" x2="410.4" y2="1835.1" stroke="#000" stroke-width="2"/>
<line x1="503.8" y1="1823.6" x2="503.8" y2="1835.1" stroke="#000" stroke-width="2"/>
<line x1="596.5" y1="1823.6" x2="596.5" y2="1835.1" stroke="#000" stroke-width="2"/>
<text x="354.9" y="1622.6" text-anchor="middle" font-size="38.5">23A</text>
<polyline points="172.9,1724.7 191.5,1736.9 210.0,1738.8 228.4,1773.5 246.6,1759.4 265.4,1754.7 283.8,1731.2 302.1,1699.8 320.9,1733.1 339.1,1704.0 358.5,1771.7 376.4,1782.9 392.6,1766.5 411.1,1729.4 429.5,1759.4 448.0,1767.0 466.2,1729.4 485.0,1715.3 503.8,1778.2 522.0,1761.9 540.5,1773.5 559.2,1720.0 577.7,1815.3 596.5,1815.3" fill="none" stroke="#a9a9a9" stroke-width="4.5" stroke-linejoin="miter" stroke-miterlimit="10"/>
<circle cx="172.9" cy="1724.7" r="5.5" fill="#a9a9a9" stroke="#a0a0a0" stroke-width="1"/>
<circle cx="191.5" cy="1736.9" r="5.5" fill="#a9a9a9" stroke="#a0a0a0" stroke-width="1"/>
<circle cx="210.0" cy="1738.8" r="5.5" fill="#a9a9a9" stroke="#a0a0a0" stroke-width="1"/>
<circle cx="228.4" cy="1773.5" r="5.5" fill="#a9a9a9" stroke="#a0a0a0" stroke-width="1"/>
<circle cx="246.6" cy="1759.4" r="5.5" fill="#a9a9a9" stroke="#a0a0a0" stroke-width="1"/>
<circle cx="265.4" cy="1754.7" r="5.5" fill="#a9a9a9" stroke="#a0a0a0" stroke-width="1"/>
<circle cx="283.8" cy="1731.2" r="5.5" fill="#a9a9a9" stroke="#a0a0a0" stroke-width="1"/>
<circle cx="302.1" cy="1699.8" r="5.5" fill="#a9a9a9" stroke="#a0a0a0" stroke-width="1"/>
<circle cx="320.9" cy="1733.1" r="5.5" fill="#a9a9a9" stroke="#a0a0a0" stroke-width="1"/>
<circle cx="339.1" cy="1704.0" r="5.5" fill="#a9a9a9" stroke="#a0a0a0" stroke-width="1"/>
<circle cx="358.5" cy="1771.7" r="5.5" fill="#a9a9a9" stroke="#a0a0a0" stroke-width="1"/>
<circle cx="376.4" cy="1782.9" r="5.5" fill="#a9a9a9" stroke="#a0a0a0" stroke-width="1"/>
<circle cx="392.6" cy="1766.5" r="5.5" fill="#a9a9a9" stroke="#a0a0a0" stroke-width="1"/>
<circle cx="411.1" cy="1729.4" r="5.5" fill="#a9a9a9" stroke="#a0a0a0" stroke-width="1"/>
<circle cx="429.5" cy="1759.4" r="5.5" fill="#a9a9a9" stroke="#a0a0a0" stroke-width="1"/>
<circle cx="448.0" cy="1767.0" r="5.5" fill="#a9a9a9" stroke="#a0a0a0" stroke-width="1"/>
<circle cx="466.2" cy="1729.4" r="5.5" fill="#a9a9a9" stroke="#a0a0a0" stroke-width="1"/>
<circle cx="485.0" cy="1715.3" r="5.5" fill="#a9a9a9" stroke="#a0a0a0" stroke-width="1"/>
<circle cx="503.8" cy="1778.2" r="5.5" fill="#a9a9a9" stroke="#a0a0a0" stroke-width="1"/>
<circle cx="522.0" cy="1761.9" r="5.5" fill="#a9a9a9" stroke="#a0a0a0" stroke-width="1"/>
<circle cx="540.5" cy="1773.5" r="5.5" fill="#a9a9a9" stroke="#a0a0a0" stroke-width="1"/>
<circle cx="559.2" cy="1720.0" r="5.5" fill="#a9a9a9" stroke="#a0a0a0" stroke-width="1"/>
<circle cx="577.7" cy="1815.3" r="5.5" fill="#a9a9a9" stroke="#a0a0a0" stroke-width="1"/>
<circle cx="596.5" cy="1815.3" r="5.5" fill="#a9a9a9" stroke="#a0a0a0" stroke-width="1"/>
<line x1="503.8" y1="1823.6" x2="503.8" y2="1623.5" stroke="#000" stroke-width="4.0" stroke-dasharray="17 19.5"/>
<polyline points="172.9,1741.4 191.5,1741.4 210.0,1741.4 228.4,1741.4 246.6,1741.4 265.4,1741.4 283.8,1741.4 302.1,1741.4 320.9,1741.4 339.1,1741.4 358.5,1741.4 376.4,1741.4 392.6,1741.4 411.1,1741.3 429.5,1741.3 448.0,1741.3 466.2,1741.3 485.0,1741.3 503.8,1741.3 522.0,1741.3 540.5,1741.3 559.2,1739.3 577.7,1715.3 596.5,1739.3" fill="none" stroke="#000" stroke-width="4.9" stroke-linejoin="miter" stroke-miterlimit="10"/>
<circle cx="172.9" cy="1741.4" r="5.6" fill="#000"/>
<circle cx="191.5" cy="1741.4" r="5.6" fill="#000"/>
<circle cx="210.0" cy="1741.4" r="5.6" fill="#000"/>
<circle cx="228.4" cy="1741.4" r="5.6" fill="#000"/>
<circle cx="246.6" cy="1741.4" r="5.6" fill="#000"/>
<circle cx="265.4" cy="1741.4" r="5.6" fill="#000"/>
<circle cx="283.8" cy="1741.4" r="5.6" fill="#000"/>
<circle cx="302.1" cy="1741.4" r="5.6" fill="#000"/>
<circle cx="320.9" cy="1741.4" r="5.6" fill="#000"/>
<circle cx="339.1" cy="1741.4" r="5.6" fill="#000"/>
<circle cx="358.5" cy="1741.4" r="5.6" fill="#000"/>
<circle cx="376.4" cy="1741.4" r="5.6" fill="#000"/>
<circle cx="392.6" cy="1741.4" r="5.6" fill="#000"/>
<circle cx="411.1" cy="1741.3" r="5.6" fill="#000"/>
<circle cx="429.5" cy="1741.3" r="5.6" fill="#000"/>
<circle cx="448.0" cy="1741.3" r="5.6" fill="#000"/>
<circle cx="466.2" cy="1741.3" r="5.6" fill="#000"/>
<circle cx="485.0" cy="1741.3" r="5.6" fill="#000"/>
<circle cx="503.8" cy="1741.3" r="5.6" fill="#000"/>
<circle cx="522.0" cy="1741.3" r="5.6" fill="#000"/>
<circle cx="540.5" cy="1741.3" r="5.6" fill="#000"/>
<circle cx="559.2" cy="1739.3" r="5.6" fill="#000"/>
<circle cx="577.7" cy="1715.3" r="5.6" fill="#000"/>
<circle cx="596.5" cy="1739.3" r="5.6" fill="#000"/>
<line x1="153.2" y1="2118.3" x2="611.8" y2="2118.3" stroke="#000" stroke-width="5.3"/>
<line x1="153.2" y1="1925.9" x2="153.2" y2="2118.3" stroke="#000" stroke-width="5.3"/>
<line x1="141.7" y1="1953.2" x2="153.2" y2="1953.2" stroke="#000" stroke-width="2"/>
<text transform="translate(131.6,1970.6) scale(0.95,1)" x="0" y="0" text-anchor="end" font-size="40.0">5</text>
<line x1="141.7" y1="2007.4" x2="153.2" y2="2007.4" stroke="#000" stroke-width="2"/>
<text transform="translate(131.6,2024.8) scale(0.95,1)" x="0" y="0" text-anchor="end" font-size="40.0">0</text>
<line x1="141.7" y1="2061.7" x2="153.2" y2="2061.7" stroke="#000" stroke-width="2"/>
<text transform="translate(131.6,2079.1) scale(0.95,1)" x="0" y="0" text-anchor="end" font-size="40.0">-5</text>
<line x1="141.7" y1="2116.5" x2="153.2" y2="2116.5" stroke="#000" stroke-width="2"/>
<text transform="translate(131.6,2133.9) scale(0.95,1)" x="0" y="0" text-anchor="end" font-size="40.0">-10</text>
<line x1="227.3" y1="2118.3" x2="227.3" y2="2129.8" stroke="#000" stroke-width="2"/>
<line x1="318.6" y1="2118.3" x2="318.6" y2="2129.8" stroke="#000" stroke-width="2"/>
<line x1="409.8" y1="2118.3" x2="409.8" y2="2129.8" stroke="#000" stroke-width="2"/>
<line x1="501.0" y1="2118.3" x2="501.0" y2="2129.8" stroke="#000" stroke-width="2"/>
<line x1="589.6" y1="2118.3" x2="589.6" y2="2129.8" stroke="#000" stroke-width="2"/>
<text x="370.5" y="1915.9" text-anchor="middle" font-size="38.5">PW</text>
<polyline points="173.3,1981.9 192.5,2011.4 210.0,2033.4 227.4,2027.7 247.0,1981.9 263.9,2009.5 281.4,2022.1 301.1,2030.8 318.4,1995.4 338.3,2000.1 355.3,1995.0 372.7,1992.2 392.6,1998.8 409.8,1984.3 426.7,1990.0 446.8,2027.6 464.0,1989.6 481.2,2005.0 500.6,1983.4 517.9,1982.4 535.2,2009.7 555.5,2027.6 572.4,2027.6 589.7,2052.9" fill="none" stroke="#a9a9a9" stroke-width="4.1" stroke-linejoin="miter" stroke-miterlimit="10"/>
<circle cx="173.3" cy="1981.9" r="6.7" fill="#a9a9a9" stroke="#a0a0a0" stroke-width="1"/>
<circle cx="192.5" cy="2011.4" r="6.7" fill="#a9a9a9" stroke="#a0a0a0" stroke-width="1"/>
<circle cx="210.0" cy="2033.4" r="6.7" fill="#a9a9a9" stroke="#a0a0a0" stroke-width="1"/>
<circle cx="227.4" cy="2027.7" r="6.7" fill="#a9a9a9" stroke="#a0a0a0" stroke-width="1"/>
<circle cx="247.0" cy="1981.9" r="6.7" fill="#a9a9a9" stroke="#a0a0a0" stroke-width="1"/>
<circle cx="263.9" cy="2009.5" r="6.7" fill="#a9a9a9" stroke="#a0a0a0" stroke-width="1"/>
<circle cx="281.4" cy="2022.1" r="6.7" fill="#a9a9a9" stroke="#a0a0a0" stroke-width="1"/>
<circle cx="301.1" cy="2030.8" r="6.7" fill="#a9a9a9" stroke="#a0a0a0" stroke-width="1"/>
<circle cx="318.4" cy="1995.4" r="6.7" fill="#a9a9a9" stroke="#a0a0a0" stroke-width="1"/>
<circle cx="338.3" cy="2000.1" r="6.7" fill="#a9a9a9" stroke="#a0a0a0" stroke-width="1"/>
<circle cx="355.3" cy="1995.0" r="6.7" fill="#a9a9a9" stroke="#a0a0a0" stroke-width="1"/>
<circle cx="372.7" cy="1992.2" r="6.7" fill="#a9a9a9" stroke="#a0a0a0" stroke-width="1"/>
<circle cx="392.6" cy="1998.8" r="6.7" fill="#a9a9a9" stroke="#a0a0a0" stroke-width="1"/>
<circle cx="409.8" cy="1984.3" r="6.7" fill="#a9a9a9" stroke="#a0a0a0" stroke-width="1"/>
<circle cx="426.7" cy="1990.0" r="6.7" fill="#a9a9a9" stroke="#a0a0a0" stroke-width="1"/>
<circle cx="446.8" cy="2027.6" r="6.7" fill="#a9a9a9" stroke="#a0a0a0" stroke-width="1"/>
<circle cx="464.0" cy="1989.6" r="6.7" fill="#a9a9a9" stroke="#a0a0a0" stroke-width="1"/>
<circle cx="481.2" cy="2005.0" r="6.7" fill="#a9a9a9" stroke="#a0a0a0" stroke-width="1"/>
<circle cx="500.6" cy="1983.4" r="6.7" fill="#a9a9a9" stroke="#a0a0a0" stroke-width="1"/>
<circle cx="517.9" cy="1982.4" r="6.7" fill="#a9a9a9" stroke="#a0a0a0" stroke-width="1"/>
<circle cx="535.2" cy="2009.7" r="6.7" fill="#a9a9a9" stroke="#a0a0a0" stroke-width="1"/>
<circle cx="555.5" cy="2027.6" r="6.7" fill="#a9a9a9" stroke="#a0a0a0" stroke-width="1"/>
<circle cx="572.4" cy="2027.6" r="6.7" fill="#a9a9a9" stroke="#a0a0a0" stroke-width="1"/>
<circle cx="589.7" cy="2052.9" r="6.7" fill="#a9a9a9" stroke="#a0a0a0" stroke-width="1"/>
<line x1="463.8" y1="2118.3" x2="463.8" y2="1925.1" stroke="#000" stroke-width="5.3" stroke-dasharray="22.5 23"/>
<polyline points="173.3,2007.3 192.5,2007.3 210.0,2007.3 227.4,2007.3 247.0,2007.3 263.9,2007.3 281.4,2007.3 301.1,2007.3 318.4,2007.3 338.3,2007.3 355.3,2007.3 372.7,2007.5 392.6,2007.5 409.8,2007.8 426.7,2007.8 446.8,2007.8 464.0,2007.8 481.2,2007.8 500.6,2002.6 517.9,1970.2 535.2,1970.2 555.5,2007.8 572.4,2004.4 589.7,2004.4" fill="none" stroke="#000" stroke-width="4.9" stroke-linejoin="miter" stroke-miterlimit="10"/>
<circle cx="173.3" cy="2007.3" r="6.8" fill="#000"/>
<circle cx="192.5" cy="2007.3" r="6.8" fill="#000"/>
<circle cx="210.0" cy="2007.3" r="6.8" fill="#000"/>
<circle cx="227.4" cy="2007.3" r="6.8" fill="#000"/>
<circle cx="247.0" cy="2007.3" r="6.8" fill="#000"/>
<circle cx="263.9" cy="2007.3" r="6.8" fill="#000"/>
<circle cx="281.4" cy="2007.3" r="6.8" fill="#000"/>
<circle cx="301.1" cy="2007.3" r="6.8" fill="#000"/>
<circle cx="318.4" cy="2007.3" r="6.8" fill="#000"/>
<circle cx="338.3" cy="2007.3" r="6.8" fill="#000"/>
<circle cx="355.3" cy="2007.3" r="6.8" fill="#000"/>
<circle cx="372.7" cy="2007.5" r="6.8" fill="#000"/>
<circle cx="392.6" cy="2007.5" r="6.8" fill="#000"/>
<circle cx="409.8" cy="2007.8" r="6.8" fill="#000"/>
<circle cx="426.7" cy="2007.8" r="6.8" fill="#000"/>
<circle cx="446.8" cy="2007.8" r="6.8" fill="#000"/>
<circle cx="464.0" cy="2007.8" r="6.8" fill="#000"/>
<circle cx="481.2" cy="2007.8" r="6.8" fill="#000"/>
<circle cx="500.6" cy="2002.6" r="6.8" fill="#000"/>
<circle cx="517.9" cy="1970.2" r="6.8" fill="#000"/>
<circle cx="535.2" cy="1970.2" r="6.8" fill="#000"/>
<circle cx="555.5" cy="2007.8" r="6.8" fill="#000"/>
<circle cx="572.4" cy="2004.4" r="6.8" fill="#000"/>
<circle cx="589.7" cy="2004.4" r="6.8" fill="#000"/>
<line x1="632.0" y1="2118.2" x2="1092.0" y2="2118.2" stroke="#000" stroke-width="5.3"/>
<line x1="1089.6" y1="1926.2" x2="1089.6" y2="2120.8" stroke="#000" stroke-width="5.3"/>
<line x1="1089.6" y1="1954.2" x2="1101.1" y2="1954.2" stroke="#000" stroke-width="2"/>
<text transform="translate(1110.0,1971.6) scale(0.95,1)" x="0" y="0" text-anchor="start" font-size="40.0">5</text>
<line x1="1089.6" y1="2008.4" x2="1101.1" y2="2008.4" stroke="#000" stroke-width="2"/>
<text transform="translate(1107.5,2025.8) scale(0.95,1)" x="0" y="0" text-anchor="start" font-size="40.0">0</text>
<line x1="1089.6" y1="2062.5" x2="1101.1" y2="2062.5" stroke="#000" stroke-width="2"/>
<text transform="translate(1103.0,2079.9) scale(0.95,1)" x="0" y="0" text-anchor="start" font-size="40.0">-5</text>
<line x1="1089.6" y1="2117.0" x2="1101.1" y2="2117.0" stroke="#000" stroke-width="2"/>
<text transform="translate(1100.5,2130.4) scale(0.95,1)" x="0" y="0" text-anchor="start" font-size="40.0">-10</text>
<line x1="708.3" y1="2118.2" x2="708.3" y2="2129.7" stroke="#000" stroke-width="2"/>
<line x1="796.2" y1="2118.2" x2="796.2" y2="2129.7" stroke="#000" stroke-width="2"/>
<line x1="887.6" y1="2118.2" x2="887.6" y2="2129.7" stroke="#000" stroke-width="2"/>
<line x1="979.0" y1="2118.2" x2="979.0" y2="2129.7" stroke="#000" stroke-width="2"/>
<line x1="1069.9" y1="2118.2" x2="1069.9" y2="2129.7" stroke="#000" stroke-width="2"/>
<text transform="translate(702.0,2164.1) scale(0.945,1)" x="0" y="0" text-anchor="middle" font-size="38.8">2000</text>
<text transform="translate(790.4,2164.1) scale(0.945,1)" x="0" y="0" text-anchor="middle" font-size="38.8">2005</text>
<text transform="translate(881.2,2164.1) scale(0.945,1)" x="0" y="0" text-anchor="middle" font-size="38.8">2010</text>
<text transform="translate(972.2,2164.1) scale(0.945,1)" x="0" y="0" text-anchor="middle" font-size="38.8">2015</text>
<text transform="translate(1064.5,2164.1) scale(0.945,1)" x="0" y="0" text-anchor="middle" font-size="38.8">2020</text>
<text x="861.5" y="1910.1" text-anchor="middle" font-size="38.5">PE</text>
<polyline points="653.9,2038.3 671.1,2040.7 688.0,1935.5 708.1,2027.0 725.0,2001.2 742.3,1986.8 762.0,2069.8 779.5,2024.4 796.4,1986.2 816.2,2004.0 833.5,1991.8 850.7,1996.5 870.6,1992.1 888.0,2037.9 904.8,2043.2 925.0,2055.8 942.1,2030.0 961.8,2045.8 978.7,2042.6 996.0,2057.6 1015.6,2109.5 1033.2,2088.7 1050.3,2062.3 1070.1,2060.7" fill="none" stroke="#a9a9a9" stroke-width="4.1" stroke-linejoin="miter" stroke-miterlimit="10"/>
<circle cx="653.9" cy="2038.3" r="6.7" fill="#a9a9a9" stroke="#a0a0a0" stroke-width="1"/>
<circle cx="671.1" cy="2040.7" r="6.7" fill="#a9a9a9" stroke="#a0a0a0" stroke-width="1"/>
<circle cx="688.0" cy="1935.5" r="6.7" fill="#a9a9a9" stroke="#a0a0a0" stroke-width="1"/>
<circle cx="708.1" cy="2027.0" r="6.7" fill="#a9a9a9" stroke="#a0a0a0" stroke-width="1"/>
<circle cx="725.0" cy="2001.2" r="6.7" fill="#a9a9a9" stroke="#a0a0a0" stroke-width="1"/>
<circle cx="742.3" cy="1986.8" r="6.7" fill="#a9a9a9" stroke="#a0a0a0" stroke-width="1"/>
<circle cx="762.0" cy="2069.8" r="6.7" fill="#a9a9a9" stroke="#a0a0a0" stroke-width="1"/>
<circle cx="779.5" cy="2024.4" r="6.7" fill="#a9a9a9" stroke="#a0a0a0" stroke-width="1"/>
<circle cx="796.4" cy="1986.2" r="6.7" fill="#a9a9a9" stroke="#a0a0a0" stroke-width="1"/>
<circle cx="816.2" cy="2004.0" r="6.7" fill="#a9a9a9" stroke="#a0a0a0" stroke-width="1"/>
<circle cx="833.5" cy="1991.8" r="6.7" fill="#a9a9a9" stroke="#a0a0a0" stroke-width="1"/>
<circle cx="850.7" cy="1996.5" r="6.7" fill="#a9a9a9" stroke="#a0a0a0" stroke-width="1"/>
<circle cx="870.6" cy="1992.1" r="6.7" fill="#a9a9a9" stroke="#a0a0a0" stroke-width="1"/>
<circle cx="888.0" cy="2037.9" r="6.7" fill="#a9a9a9" stroke="#a0a0a0" stroke-width="1"/>
<circle cx="904.8" cy="2043.2" r="6.7" fill="#a9a9a9" stroke="#a0a0a0" stroke-width="1"/>
<circle cx="925.0" cy="2055.8" r="6.7" fill="#a9a9a9" stroke="#a0a0a0" stroke-width="1"/>
<circle cx="942.1" cy="2030.0" r="6.7" fill="#a9a9a9" stroke="#a0a0a0" stroke-width="1"/>
<circle cx="961.8" cy="2045.8" r="6.7" fill="#a9a9a9" stroke="#a0a0a0" stroke-width="1"/>
<circle cx="978.7" cy="2042.6" r="6.7" fill="#a9a9a9" stroke="#a0a0a0" stroke-width="1"/>
<circle cx="996.0" cy="2057.6" r="6.7" fill="#a9a9a9" stroke="#a0a0a0" stroke-width="1"/>
<circle cx="1015.6" cy="2109.5" r="6.7" fill="#a9a9a9" stroke="#a0a0a0" stroke-width="1"/>
<circle cx="1033.2" cy="2088.7" r="6.7" fill="#a9a9a9" stroke="#a0a0a0" stroke-width="1"/>
<circle cx="1050.3" cy="2062.3" r="6.7" fill="#a9a9a9" stroke="#a0a0a0" stroke-width="1"/>
<circle cx="1070.1" cy="2060.7" r="6.7" fill="#a9a9a9" stroke="#a0a0a0" stroke-width="1"/>
<line x1="942.0" y1="2118.2" x2="942.0" y2="1927.5" stroke="#000" stroke-width="5.3" stroke-dasharray="22.5 23"/>
<polyline points="653.9,2006.9 671.1,2006.9 688.0,2006.9 708.1,2006.9 725.0,2006.9 742.3,2006.9 762.0,2006.9 779.5,2006.9 796.4,2006.9 816.2,2006.9 833.5,2006.9 850.7,2006.6 870.6,2006.6 888.0,2006.6 904.8,2006.3 925.0,2006.3 942.1,2006.3 961.8,2006.3 978.7,1992.8 996.0,1946.2 1015.8,1975.9 1033.2,2004.4 1050.5,2001.2 1070.3,1978.1" fill="none" stroke="#000" stroke-width="4.9" stroke-linejoin="miter" stroke-miterlimit="10"/>
<circle cx="653.9" cy="2006.9" r="6.8" fill="#000"/>
<circle cx="671.1" cy="2006.9" r="6.8" fill="#000"/>
<circle cx="688.0" cy="2006.9" r="6.8" fill="#000"/>
<circle cx="708.1" cy="2006.9" r="6.8" fill="#000"/>
<circle cx="725.0" cy="2006.9" r="6.8" fill="#000"/>
<circle cx="742.3" cy="2006.9" r="6.8" fill="#000"/>
<circle cx="762.0" cy="2006.9" r="6.8" fill="#000"/>
<circle cx="779.5" cy="2006.9" r="6.8" fill="#000"/>
<circle cx="796.4" cy="2006.9" r="6.8" fill="#000"/>
<circle cx="816.2" cy="2006.9" r="6.8" fill="#000"/>
<circle cx="833.5" cy="2006.9" r="6.8" fill="#000"/>
<circle cx="850.7" cy="2006.6" r="6.8" fill="#000"/>
<circle cx="870.6" cy="2006.6" r="6.8" fill="#000"/>
<circle cx="888.0" cy="2006.6" r="6.8" fill="#000"/>
<circle cx="904.8" cy="2006.3" r="6.8" fill="#000"/>
<circle cx="925.0" cy="2006.3" r="6.8" fill="#000"/>
<circle cx="942.1" cy="2006.3" r="6.8" fill="#000"/>
<circle cx="961.8" cy="2006.3" r="6.8" fill="#000"/>
<circle cx="978.7" cy="1992.8" r="6.8" fill="#000"/>
<circle cx="996.0" cy="1946.2" r="6.8" fill="#000"/>
<circle cx="1015.8" cy="1975.9" r="6.8" fill="#000"/>
<circle cx="1033.2" cy="2004.4" r="6.8" fill="#000"/>
<circle cx="1050.5" cy="2001.2" r="6.8" fill="#000"/>
<circle cx="1070.3" cy="1978.1" r="6.8" fill="#000"/>
<line x1="154.0" y1="2453.3" x2="621.5" y2="2453.3" stroke="#000" stroke-width="5.3"/>
<line x1="154.0" y1="2250.8" x2="154.0" y2="2453.3" stroke="#000" stroke-width="5.3"/>
<line x1="142.5" y1="2282.6" x2="154.0" y2="2282.6" stroke="#000" stroke-width="2"/>
<text transform="translate(140.5,2300.0) scale(0.95,1)" x="0" y="0" text-anchor="end" font-size="40.0">5.0</text>
<line x1="142.5" y1="2326.5" x2="154.0" y2="2326.5" stroke="#000" stroke-width="2"/>
<text transform="translate(140.5,2343.9) scale(0.95,1)" x="0" y="0" text-anchor="end" font-size="40.0">2.5</text>
<line x1="142.5" y1="2370.4" x2="154.0" y2="2370.4" stroke="#000" stroke-width="2"/>
<text transform="translate(140.5,2387.8) scale(0.95,1)" x="0" y="0" text-anchor="end" font-size="40.0">0.0</text>
<line x1="142.5" y1="2414.1" x2="154.0" y2="2414.1" stroke="#000" stroke-width="2"/>
<text transform="translate(140.5,2431.5) scale(0.95,1)" x="0" y="0" text-anchor="end" font-size="40.0">-2.5</text>
<line x1="619.4" y1="2250.8" x2="619.4" y2="2456.0" stroke="#000" stroke-width="5.3"/>
<line x1="619.4" y1="2282.9" x2="630.9" y2="2282.9" stroke="#000" stroke-width="2"/>
<text transform="translate(634.5,2300.3) scale(0.95,1)" x="0" y="0" text-anchor="start" font-size="40.0">0.50</text>
<line x1="619.4" y1="2326.5" x2="630.9" y2="2326.5" stroke="#000" stroke-width="2"/>
<text transform="translate(634.5,2343.9) scale(0.95,1)" x="0" y="0" text-anchor="start" font-size="40.0">0.25</text>
<line x1="619.4" y1="2370.3" x2="630.9" y2="2370.3" stroke="#000" stroke-width="2"/>
<text transform="translate(634.5,2387.7) scale(0.95,1)" x="0" y="0" text-anchor="start" font-size="40.0">0.00</text>
<line x1="619.4" y1="2414.4" x2="630.9" y2="2414.4" stroke="#000" stroke-width="2"/>
<text transform="translate(634.5,2431.8) scale(0.95,1)" x="0" y="0" text-anchor="start" font-size="40.0">-0.25</text>
<line x1="230.5" y1="2453.3" x2="230.5" y2="2464.8" stroke="#000" stroke-width="2"/>
<line x1="322.6" y1="2453.3" x2="322.6" y2="2464.8" stroke="#000" stroke-width="2"/>
<line x1="413.3" y1="2453.3" x2="413.3" y2="2464.8" stroke="#000" stroke-width="2"/>
<line x1="505.6" y1="2453.3" x2="505.6" y2="2464.8" stroke="#000" stroke-width="2"/>
<line x1="598.1" y1="2453.3" x2="598.1" y2="2464.8" stroke="#000" stroke-width="2"/>
<text transform="translate(221.5,2499.6) scale(0.945,1)" x="0" y="0" text-anchor="middle" font-size="38.8">2000</text>
<text transform="translate(319.6,2499.6) scale(0.945,1)" x="0" y="0" text-anchor="middle" font-size="38.8">2005</text>
<text transform="translate(409.1,2497.0) scale(0.945,1)" x="0" y="0" text-anchor="middle" font-size="38.8">2010</text>
<text transform="translate(499.2,2499.6) scale(0.945,1)" x="0" y="0" text-anchor="middle" font-size="38.8">2015</text>
<text transform="translate(595.3,2497.0) scale(0.945,1)" x="0" y="0" text-anchor="middle" font-size="38.8">2020</text>
<text x="373.0" y="2240.2" text-anchor="middle" font-size="38.5">23A</text>
<polyline points="174.8,2400.2 193.0,2425.7 211.8,2421.4 230.6,2356.2 248.5,2442.1 266.9,2340.6 285.7,2366.9 304.5,2321.8 322.7,2416.7 341.5,2386.6 360.0,2337.7 378.5,2308.0 394.5,2411.4 413.2,2342.4 431.4,2385.7 450.2,2396.0 468.6,2323.6 487.4,2388.9 505.7,2362.2 523.9,2258.8 542.3,2396.0 561.1,2390.4 579.5,2400.7 598.3,2328.3" fill="none" stroke="#a9a9a9" stroke-width="4.5" stroke-linejoin="miter" stroke-miterlimit="10"/>
<circle cx="174.8" cy="2400.2" r="5.5" fill="#a9a9a9" stroke="#a0a0a0" stroke-width="1"/>
<circle cx="193.0" cy="2425.7" r="5.5" fill="#a9a9a9" stroke="#a0a0a0" stroke-width="1"/>
<circle cx="211.8" cy="2421.4" r="5.5" fill="#a9a9a9" stroke="#a0a0a0" stroke-width="1"/>
<circle cx="230.6" cy="2356.2" r="5.5" fill="#a9a9a9" stroke="#a0a0a0" stroke-width="1"/>
<circle cx="248.5" cy="2442.1" r="5.5" fill="#a9a9a9" stroke="#a0a0a0" stroke-width="1"/>
<circle cx="266.9" cy="2340.6" r="5.5" fill="#a9a9a9" stroke="#a0a0a0" stroke-width="1"/>
<circle cx="285.7" cy="2366.9" r="5.5" fill="#a9a9a9" stroke="#a0a0a0" stroke-width="1"/>
<circle cx="304.5" cy="2321.8" r="5.5" fill="#a9a9a9" stroke="#a0a0a0" stroke-width="1"/>
<circle cx="322.7" cy="2416.7" r="5.5" fill="#a9a9a9" stroke="#a0a0a0" stroke-width="1"/>
<circle cx="341.5" cy="2386.6" r="5.5" fill="#a9a9a9" stroke="#a0a0a0" stroke-width="1"/>
<circle cx="360.0" cy="2337.7" r="5.5" fill="#a9a9a9" stroke="#a0a0a0" stroke-width="1"/>
<circle cx="378.5" cy="2308.0" r="5.5" fill="#a9a9a9" stroke="#a0a0a0" stroke-width="1"/>
<circle cx="394.5" cy="2411.4" r="5.5" fill="#a9a9a9" stroke="#a0a0a0" stroke-width="1"/>
<circle cx="413.2" cy="2342.4" r="5.5" fill="#a9a9a9" stroke="#a0a0a0" stroke-width="1"/>
<circle cx="431.4" cy="2385.7" r="5.5" fill="#a9a9a9" stroke="#a0a0a0" stroke-width="1"/>
<circle cx="450.2" cy="2396.0" r="5.5" fill="#a9a9a9" stroke="#a0a0a0" stroke-width="1"/>
<circle cx="468.6" cy="2323.6" r="5.5" fill="#a9a9a9" stroke="#a0a0a0" stroke-width="1"/>
<circle cx="487.4" cy="2388.9" r="5.5" fill="#a9a9a9" stroke="#a0a0a0" stroke-width="1"/>
<circle cx="505.7" cy="2362.2" r="5.5" fill="#a9a9a9" stroke="#a0a0a0" stroke-width="1"/>
<circle cx="523.9" cy="2258.8" r="5.5" fill="#a9a9a9" stroke="#a0a0a0" stroke-width="1"/>
<circle cx="542.3" cy="2396.0" r="5.5" fill="#a9a9a9" stroke="#a0a0a0" stroke-width="1"/>
<circle cx="561.1" cy="2390.4" r="5.5" fill="#a9a9a9" stroke="#a0a0a0" stroke-width="1"/>
<circle cx="579.5" cy="2400.7" r="5.5" fill="#a9a9a9" stroke="#a0a0a0" stroke-width="1"/>
<circle cx="598.3" cy="2328.3" r="5.5" fill="#a9a9a9" stroke="#a0a0a0" stroke-width="1"/>
<line x1="505.7" y1="2453.3" x2="505.7" y2="2250.8" stroke="#000" stroke-width="4.0" stroke-dasharray="17 19.5"/>
<polyline points="174.8,2370.6 193.0,2370.6 211.8,2370.6 230.6,2370.6 248.5,2370.6 266.9,2370.6 285.7,2370.6 304.5,2370.6 322.7,2370.6 341.5,2370.6 360.0,2370.6 378.5,2370.5 394.5,2370.5 413.2,2370.3 431.4,2370.3 450.2,2370.3 468.6,2370.3 487.4,2370.3 505.7,2370.3 523.9,2370.3 542.3,2370.3 561.1,2365.9 579.5,2344.3 598.3,2368.4" fill="none" stroke="#000" stroke-width="4.9" stroke-linejoin="miter" stroke-miterlimit="10"/>
<circle cx="174.8" cy="2370.6" r="5.6" fill="#000"/>
<circle cx="193.0" cy="2370.6" r="5.6" fill="#000"/>
<circle cx="211.8" cy="2370.6" r="5.6" fill="#000"/>
<circle cx="230.6" cy="2370.6" r="5.6" fill="#000"/>
<circle cx="248.5" cy="2370.6" r="5.6" fill="#000"/>
<circle cx="266.9" cy="2370.6" r="5.6" fill="#000"/>
<circle cx="285.7" cy="2370.6" r="5.6" fill="#000"/>
<circle cx="304.5" cy="2370.6" r="5.6" fill="#000"/>
<circle cx="322.7" cy="2370.6" r="5.6" fill="#000"/>
<circle cx="341.5" cy="2370.6" r="5.6" fill="#000"/>
<circle cx="360.0" cy="2370.6" r="5.6" fill="#000"/>
<circle cx="378.5" cy="2370.5" r="5.6" fill="#000"/>
<circle cx="394.5" cy="2370.5" r="5.6" fill="#000"/>
<circle cx="413.2" cy="2370.3" r="5.6" fill="#000"/>
<circle cx="431.4" cy="2370.3" r="5.6" fill="#000"/>
<circle cx="450.2" cy="2370.3" r="5.6" fill="#000"/>
<circle cx="468.6" cy="2370.3" r="5.6" fill="#000"/>
<circle cx="487.4" cy="2370.3" r="5.6" fill="#000"/>
<circle cx="505.7" cy="2370.3" r="5.6" fill="#000"/>
<circle cx="523.9" cy="2370.3" r="5.6" fill="#000"/>
<circle cx="542.3" cy="2370.3" r="5.6" fill="#000"/>
<circle cx="561.1" cy="2365.9" r="5.6" fill="#000"/>
<circle cx="579.5" cy="2344.3" r="5.6" fill="#000"/>
<circle cx="598.3" cy="2368.4" r="5.6" fill="#000"/>
<text transform="translate(30.6,241.5) rotate(-90)" x="0" y="0" text-anchor="middle" font-size="38.5" font-style="italic">M. trossuls</text>
<text transform="translate(73.7,241.5) rotate(-90)" x="0" y="0" text-anchor="middle" font-size="38.5">residuals</text>
<text transform="translate(30.5,512.0) rotate(-90)" x="0" y="0" text-anchor="middle" font-size="38.5" font-style="italic">M. balthica</text>
<text transform="translate(73.7,512.0) rotate(-90)" x="0" y="0" text-anchor="middle" font-size="38.5">residuals</text>
<text transform="translate(29.5,988.0) rotate(-90)" x="0" y="0" text-anchor="middle" font-size="38.5" font-style="italic">M. trossuls</text>
<text transform="translate(73.1,988.0) rotate(-90)" x="0" y="0" text-anchor="middle" font-size="38.5">residuals</text>
<text transform="translate(29.5,1274.5) rotate(-90)" x="0" y="0" text-anchor="middle" font-size="38.5" font-style="italic">M. balthica</text>
<text transform="translate(73.1,1274.5) rotate(-90)" x="0" y="0" text-anchor="middle" font-size="38.5">residuals</text>
<text transform="translate(28.5,1722.6) rotate(-90)" x="0" y="0" text-anchor="middle" font-size="38.5" font-style="italic">M. trossuls</text>
<text transform="translate(72.0,1722.6) rotate(-90)" x="0" y="0" text-anchor="middle" font-size="38.5">residuals</text>
<text transform="translate(30.1,2038.0) rotate(-90)" x="0" y="0" text-anchor="middle" font-size="38.5" font-style="italic">M. balthica</text>
<text transform="translate(73.9,2038.0) rotate(-90)" x="0" y="0" text-anchor="middle" font-size="38.5">residuals</text>
<text transform="translate(28.2,2357.0) rotate(-90)" x="0" y="0" text-anchor="middle" font-size="38.5" font-style="italic">M. balthica</text>
<text transform="translate(71.4,2357.0) rotate(-90)" x="0" y="0" text-anchor="middle" font-size="38.5">residuals</text>
<text transform="translate(1249.8,223.4) rotate(90)" x="0" y="0" text-anchor="middle" font-size="38.5">Round goby</text>
<text transform="translate(1205.5,223.4) rotate(90)" x="0" y="0" text-anchor="middle" font-size="38.5">biomass</text>
<text transform="translate(1253.1,507.0) rotate(90)" x="0" y="0" text-anchor="middle" font-size="38.5">Round goby</text>
<text transform="translate(1208.9,507.0) rotate(90)" x="0" y="0" text-anchor="middle" font-size="38.5">biomass</text>
<text transform="translate(1235.4,976.0) rotate(90)" x="0" y="0" text-anchor="middle" font-size="38.5">Round goby</text>
<text transform="translate(1193.0,976.0) rotate(90)" x="0" y="0" text-anchor="middle" font-size="38.5">biomass</text>
<text transform="translate(1700.6,1271.5) rotate(90)" x="0" y="0" text-anchor="middle" font-size="38.5">Round goby</text>
<text transform="translate(1657.0,1271.5) rotate(90)" x="0" y="0" text-anchor="middle" font-size="38.5">biomass</text>
<text transform="translate(766.5,1718.3) rotate(90)" x="0" y="0" text-anchor="middle" font-size="38.5">Round goby</text>
<text transform="translate(722.8,1718.3) rotate(90)" x="0" y="0" text-anchor="middle" font-size="38.5">biomass</text>
<text transform="translate(1206.8,2029.0) rotate(90)" x="0" y="0" text-anchor="middle" font-size="38.5">Round goby</text>
<text transform="translate(1164.1,2029.0) rotate(90)" x="0" y="0" text-anchor="middle" font-size="38.5">biomass</text>
<text transform="translate(767.9,2355.4) rotate(90)" x="0" y="0" text-anchor="middle" font-size="38.5">Round goby</text>
<text transform="translate(724.0,2355.4) rotate(90)" x="0" y="0" text-anchor="middle" font-size="38.5">biomass</text>
</svg>
</body></html>
